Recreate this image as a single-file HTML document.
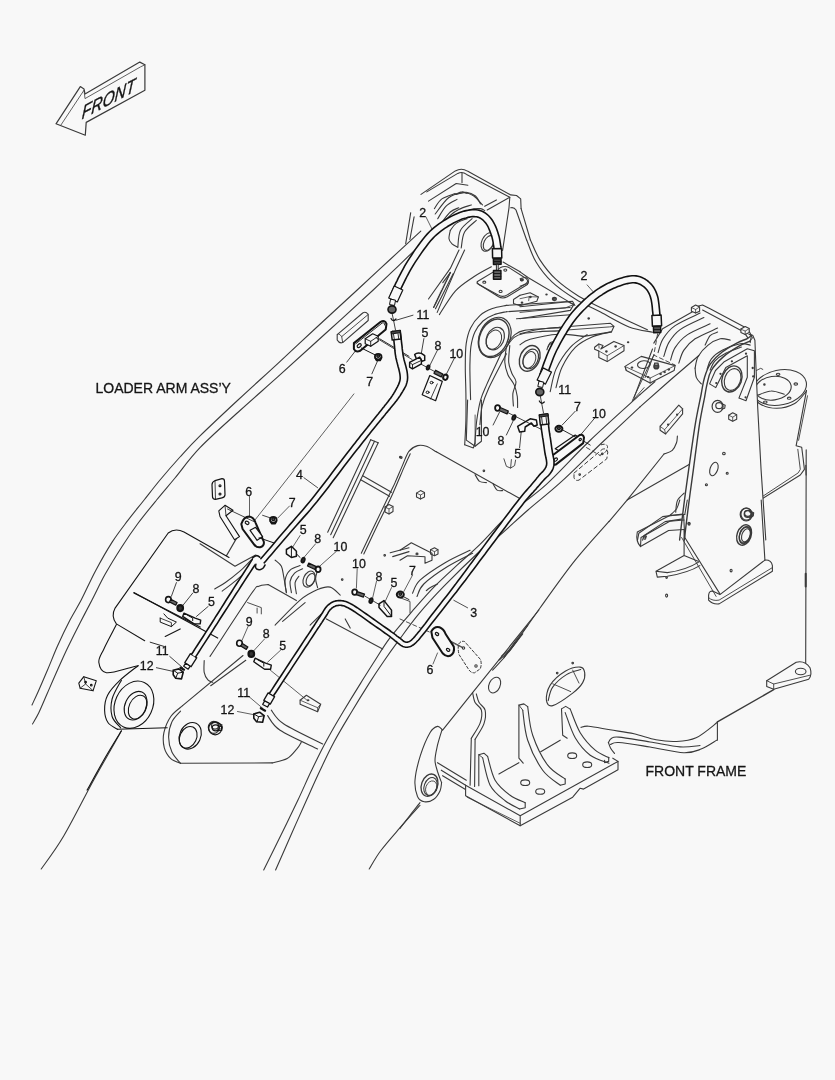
<!DOCTYPE html>
<html><head><meta charset="utf-8"><title>Front frame piping</title>
<style>
html,body{margin:0;padding:0;background:#f8f8f8;}
body{width:835px;height:1080px;overflow:hidden;font-family:"Liberation Sans",sans-serif;}
svg{display:block;will-change:transform;transform:translateZ(0)}
svg text{font-family:"Liberation Sans",sans-serif;fill:#151515;stroke:#151515;stroke-width:0.3px}
</style></head><body>
<svg width="835" height="1080" viewBox="0 0 835 1080" fill="none" stroke="#3a3a3a" stroke-linecap="round" stroke-linejoin="round" stroke-width="1.1">
<rect width="835" height="1080" fill="#f8f8f8" stroke="none"/>
<ellipse cx="779.7" cy="387.5" rx="27.1" ry="17.4" transform="rotate(-12 779.7 387.5)"/>
<path d="M754.4 394.2 C755.3 395.7 755.6 401.1 759.3 403.5 C763 405.8 770.8 408.3 776.7 408.3 C782.6 408.3 789.8 406.2 794.7 403.5 C799.6 400.7 804.2 393.6 806.1 391.7"/>
<ellipse cx="773.2" cy="388.2" rx="18.1" ry="11.8" transform="rotate(-8 773.2 388.2)"/>
<path d="M757.9 395.1 C760.1 394.4 766.7 391.1 771.1 391 C775.5 390.8 782.1 393.6 784.3 394.2"/>
<ellipse cx="778.1" cy="374.3" rx="1.8" ry="1.1"/>
<ellipse cx="795.8" cy="384" rx="1.8" ry="1.1"/>
<ellipse cx="789.2" cy="398.2" rx="1.8" ry="1.1"/>
<ellipse cx="765.3" cy="402.1" rx="1.8" ry="1.1"/>
<ellipse cx="764.4" cy="384.4" rx="0.7" ry="0.7"/>
<path d="M755.8 370.8 L760.7 368.3 L762.8 369.4" stroke-width="0.9"/>
<path d="M806.5 390.3 L796.1 445.8 L801.7 447.2 L803.1 458.3 L804.4 469.4 L800.3 475 L761.4 499.3"/>
<path d="M807.5 395.8 L798.6 440.3" stroke-width="0.9"/>
<path d="M797.8 449.3 L800.3 469.4 L798.2 472.9 L761.4 497.2" stroke-width="0.9"/>
<path d="M805.8 465.3 L806.1 475"/>
<path d="M688.6 470.1 L695.3 424.1 L701.2 394 L704.6 377.2 L710.4 363.8 L722.2 352 L737.3 342.8 L747.3 338.6 L751 335.6 L754.9 340.3 L755.7 360.4 L757.7 407.4 L761.1 470.1 L765.8 540 L679.5 540 Z" fill="#f8f8f8" stroke="none"/>
<path d="M56 123.8 L80.3 86.6 L84 88.9 L85 93.9 L139.8 62.1 L144.9 64.8 L144.9 90.2 L86.2 122.4 L85.3 135.2 Z" stroke-width="1.2"/>
<path d="M61 124.9 L84 90.2 L85 98.6 L140.7 66.8 L144.9 64.8" stroke-width="0.8"/>
<text transform="matrix(1,-0.53,-0.1,1.25,81.5,119.5)" font-size="15.5" font-style="italic" stroke="#1a1a1a" stroke-width="0.35">FRONT</text>
<text x="95.5" y="392.7" font-size="14" text-anchor="start">LOADER ARM ASS&#8217;Y</text>
<text x="645.5" y="776" font-size="14" text-anchor="start">FRONT FRAME</text>
<path d="M421 194.4 L455.3 170.9 Q461.7 167.5 467.4 171.1 L510.7 194.9 L516.5 195.5 L520.7 198.9 L521.1 208.6"/>
<path d="M426.8 191.9 L457.8 173.4 Q462.4 171.1 466.6 174.4 L509.8 197.2 L487.2 210"/>
<path d="M462 173.1 L462 182.6"/>
<path d="M496.4 199.9 L484.7 206.3"/>
<path d="M509.8 197.2 L509 207.8 L502.6 250.5"/>
<path d="M510.7 207.8 Q514 206.9 516 210 L526.6 240"/>
<path d="M521.1 208.6 L530.4 240"/>
<path d="M428.5 201.1 L456.2 183.5 L467.9 185.2"/>
<path d="M434.4 208.6 C435.6 207 438.4 201.4 441.9 198.9 C445.4 196.4 453.1 194.4 455.3 193.5"/>
<path d="M435.2 214 C437.4 211.3 443.9 201.3 448.6 197.7 C453.4 194.2 459.5 193 463.7 192.7 C467.9 192.4 470.6 194 473.8 196 C476.9 198.1 481 203.5 482.5 204.9"/>
<path d="M440.2 224.6 C441.9 222.5 447.2 214.8 450.3 212 C453.4 209.2 457.3 208.5 458.7 207.8"/>
<path d="M455.3 194.4 C456.4 194 460.1 192 462 191.9 C464 191.7 466.2 193.3 467.1 193.5"/>
<path d="M450.3 230.4 C450.1 231.8 448.7 236.6 449 238.8 C449.2 241 450.5 242.4 452 243.8 C453.5 245.2 456.9 246.6 457.8 247.2"/>
<path d="M457.8 247.2 C458.3 244.4 458 235.2 460.4 230.4 C462.7 225.7 470.1 220.6 472.1 218.7"/>
<path d="M461.2 248 C461.8 245.4 462 236.7 464.6 232.1 C467.1 227.5 474.3 222.3 476.3 220.4"/>
<path d="M477.5 281.5 L500.6 267.6 Q504.8 265.4 509 267.6 L526.1 278.5 Q529.1 281 526.1 283.5 L507.3 294.9 Q502.6 297.8 498.1 294.9 L478.8 284.4 Q476.3 282.7 477.5 281.5 Z" fill="#f8f8f8"/>
<path d="M477.1 283.2 L498.6 296.8 Q502.6 299.1 507.3 296.8 L527.4 284.5 L528.4 281.5"/>
<ellipse cx="484.3" cy="282.2" rx="1.5" ry="1.1"/>
<ellipse cx="505.3" cy="270.1" rx="1.5" ry="1.1"/>
<ellipse cx="521.9" cy="279.8" rx="1.5" ry="1.1"/>
<ellipse cx="500.6" cy="291.4" rx="1.5" ry="1.1"/>
<path d="M503.1 262.1 L520.1 271.8"/>
<path d="M491.4 266.8 C488.4 268.4 479.8 272.8 473.8 276.8 C467.8 280.9 461.1 284.8 455.3 291.1 C449.6 297.4 442.1 310.6 439.4 314.6"/>
<path d="M459 250 L450.3 268.4 L428.5 299"/>
<path d="M464.6 250 L455.3 270.1 L437.2 312.4"/>
<path d="M450.3 272.6 L433.5 307.8" stroke-width="1.6" stroke-dasharray="1 1.2"/>
<path d="M453.3 273.5 L435.5 308.7"/>
<path d="M442.8 282.7 L450.3 272.6"/>
<path d="M464.7 444.8 C464.9 440.7 465.7 428.6 465.9 420 C466.1 411.5 466 402.5 465.9 393.4 C465.8 384.3 465.2 373.7 465.3 365.4 C465.3 357.1 465.3 349.8 466.2 343.6 C467.1 337.4 468.3 332.7 470.6 328 C472.9 323.4 476.3 318.8 479.9 315.6 C483.5 312.3 488 310.2 492.4 308.6 C496.8 306.9 504 306 506.4 305.4"/>
<path d="M506.4 305.4 L572.5 301.2 L574.9 305.4"/>
<path d="M464.7 444.8 L473.4 447.9 L474.9 443.2"/>
<path d="M474.9 443.2 C475.2 439.4 475.8 427.3 476.8 420 C477.8 412.8 479 405.6 480.7 399.6 C482.4 393.6 483.4 392 486.9 384.1 C490.4 376.2 499.2 357.5 501.7 352.2"/>
<path d="M479.9 424.6 C480.3 421.4 480.8 411.8 482.2 405.9 C483.7 399.9 484.5 397.4 488.5 388.7 C492.5 380.1 503.4 359.6 506.4 353.7"/>
<path d="M470.6 399.6 C470.5 396.5 470.2 386.7 470.1 381 C470 375.3 469.8 371.1 469.9 365.4 C470.1 359.7 470.1 352.3 470.9 346.7 C471.7 341.1 472.9 336.2 474.9 331.9 C477 327.6 479.9 323.9 483 321 C486.2 318.2 490 316.3 493.9 314.8 C497.8 313.2 504.3 312.2 506.4 311.7"/>
<path d="M506.4 311.7 L570.2 307.5"/>
<ellipse cx="494.7" cy="337.4" rx="15.3" ry="21" stroke-width="1.2" transform="rotate(25 494.7 337.4)"/>
<ellipse cx="493.9" cy="337.8" rx="14" ry="19.6" stroke-width="1.4" transform="rotate(25 493.9 337.8)"/>
<ellipse cx="495.2" cy="338.6" rx="8.6" ry="11.8" stroke-width="1.2" transform="rotate(25 495.2 338.6)"/>
<ellipse cx="493.9" cy="339.7" rx="7.2" ry="10" stroke-width="1" transform="rotate(25 493.9 339.7)"/>
<path d="M506.4 346.7 C507.7 345.2 511.3 339.6 514.2 337.4 C517 335.2 518.8 334.5 523.5 333.5 C528.2 332.5 535.7 332 542.2 331.4 C548.7 330.9 558.2 331.4 562.4 330.4 C566.6 329.3 566.6 326.1 567.4 325.2"/>
<path d="M507.9 342.8 C509.1 341.4 512.2 336.6 514.9 334.6 C517.7 332.5 519.7 331.3 524.3 330.4 C528.8 329.4 535.6 329.2 542.2 328.8 C548.8 328.4 560.4 327.9 564 327.7"/>
<path d="M516.5 318.7 C520.8 318.4 533.2 317.5 542.2 316.8 C551.2 316.2 565.8 315.1 570.5 314.8"/>
<path d="M506.4 346.7 C506.1 349.3 504.6 357.6 504.8 362.3 C505.1 366.9 506.4 371 507.9 374.7 C509.5 378.5 512.6 381.2 514.2 384.9 C515.7 388.5 516.7 392.8 517.3 396.5 C517.8 400.3 517.5 405.6 517.6 407.4"/>
<path d="M509.8 345.5 C509.6 348.3 508.4 357.7 508.7 362.3 C509.1 366.9 510.6 369.9 511.8 373.2 C513 376.4 515.8 378.4 516 381.7 C516.2 385.1 513.4 389.4 512.9 393.4 C512.5 397.4 513.3 403.8 513.4 405.9"/>
<ellipse cx="529.7" cy="358.4" rx="9.7" ry="13.4" stroke-width="1.4" transform="rotate(25 529.7 358.4)"/>
<ellipse cx="530.7" cy="358.9" rx="7.2" ry="10.3" stroke-width="1.2" transform="rotate(25 530.7 358.9)"/>
<ellipse cx="529.4" cy="359.9" rx="5.9" ry="8.7" stroke-width="1" transform="rotate(25 529.4 359.9)"/>
<path d="M548.4 346.7 C548.7 346.1 549.1 343.6 550 342.8 C550.9 342 553.2 341.9 553.9 341.7"/>
<path d="M546.9 349.8 C547.2 348.9 547.9 345.4 549.2 344.4 C550.5 343.3 553.7 343.7 554.6 343.6"/>
<path d="M550.3 351.4 C550.5 350.6 551 347.6 551.8 346.7 C552.7 345.8 554.8 346.1 555.4 345.9"/>
<path d="M353.9 393.9 L253.8 521.5" stroke-width="0.8"/>
<path d="M303.9 477.7 L317.6 487.7" stroke-width="0.9"/>
<path d="M337.2 334.6 L362.7 313 Q365.7 311 368.2 314.5 L368.2 320.5 L342.7 342.6 Q339.2 343.8 337.2 340.1 Z"/>
<path d="M337.2 334.6 Q338.2 332.1 341.7 336.6 L368.2 314.5 M341.7 336.6 L342.7 342.6" stroke-width="0.9"/>
<path d="M370.7 439.7 L327.7 532.3"/>
<path d="M374.5 441.2 L330.7 534.8"/>
<path d="M378.2 442.7 L333.2 537.8"/>
<path d="M370.7 439.7 L378.2 442.7"/>
<path d="M362.7 475.7 L391.5 492.3"/>
<path d="M360.7 479.7 L389.5 496.3"/>
<ellipse cx="400.3" cy="457.2" rx="0.8" ry="0.8"/>
<ellipse cx="384.7" cy="555.3" rx="0.8" ry="0.8"/>
<path d="M390.2 552.8 L409 547.8"/>
<path d="M392.7 556.6 L409 551.6"/>
<path d="M210 656.4 C216.9 646 243.2 605.5 251.3 593.8 C259.4 582.2 256 587.9 258.8 586.3 C261.6 584.8 266.5 584.9 268.1 584.6"/>
<path d="M268.1 584.6 L296.4 600.6"/>
<path d="M200 543.8 L235 566.3 L255.6 555"/>
<path d="M271.3 710.2 C273.4 712.5 275.3 718.4 283.9 724 C292.4 729.6 316.2 740.7 322.7 744"/>
<path d="M267.6 715.7 C269.7 718.2 271.8 724.7 280.1 730.3 C288.4 735.8 311.4 745.9 317.6 749"/>
<path d="M326.4 618.9 L382.7 648.9"/>
<path d="M345.2 618.9 L350.2 628.1"/>
<path d="M275.1 625.1 C279.3 621 293 606 300.1 600.1 C307.2 594.2 312.6 591.8 317.6 589.6 C322.7 587.4 326.4 586.2 330.2 587.1 C333.9 588 338.5 593.8 340.2 595.1"/>
<path d="M282.6 621.4 L305.1 602.6"/>
<path d="M310.1 625.1 L325.2 610.1"/>
<ellipse cx="309.1" cy="579.1" rx="5.5" ry="8.5" transform="rotate(25 309.1 579.1)"/>
<ellipse cx="310.6" cy="579.6" rx="4" ry="6.5" transform="rotate(25 310.6 579.6)"/>
<path d="M286.4 592.6 C286.1 590.5 284.5 583.8 285.1 580.1 C285.7 576.3 287.6 572.5 290.1 570.1 C292.6 567.6 298.5 566.3 300.1 565.6"/>
<path d="M291.4 592.6 C291.2 590.7 289.6 584.6 290.1 581.3 C290.7 578.1 292.5 575.2 294.6 573.1 C296.7 571 301.3 569.5 302.6 568.8"/>
<path d="M296.4 593.8 C296.2 592 294.7 585.5 295.1 582.6 C295.5 579.7 298.2 577.4 298.9 576.3"/>
<path d="M275.1 560.1 C276.1 561.1 279.9 563.4 281.4 566.3 C282.8 569.2 283 573.2 283.9 577.6 C284.7 582 285.9 590.1 286.4 592.6"/>
<path d="M317.6 587.6 C317.3 586.1 315.6 581.7 315.6 578.8 C315.6 575.9 317.3 571.5 317.6 570.1"/>
<path d="M247.6 602.6 L261.3 607.6 L261.3 613.9 M257.1 608.1 L257.1 613.1" stroke-width="0.9"/>
<path d="M300.1 700.2 L306.4 695.2 L320.7 704.2 L317.6 711.7 L300.1 704.2 Z" fill="#f8f8f8"/>
<path d="M300.1 700.2 L317.6 707.7 L317.6 711.7 M317.6 707.7 L320.7 704.2" stroke-width="0.8"/>
<ellipse cx="308.1" cy="700.2" rx="0.8" ry="0.5"/>
<path d="M268.8 668.9 L307.6 700.7" stroke-width="0.8"/>
<ellipse cx="213.8" cy="727.3" rx="5.5" ry="6" stroke-width="1.2"/>
<ellipse cx="215" cy="725.8" rx="3.5" ry="3.3" stroke-width="1.2"/>
<path d="M217.5 723.3 L222 724.8 L221.5 728.8 L217.5 729.3"/>
<ellipse cx="342.2" cy="579.6" rx="0.8" ry="0.8"/>
<path d="M300.1 535.5 L292.1 548" stroke-width="0.8"/>
<path d="M315.6 543.8 L303.9 557.5" stroke-width="0.8"/>
<path d="M336.4 551.3 L319.6 566.3" stroke-width="0.8"/>
<path d="M357.2 568.8 L356.4 588.1" stroke-width="0.8"/>
<path d="M376.5 581.3 L372.7 597.6" stroke-width="0.8"/>
<path d="M391.5 587.6 L385.2 601.4" stroke-width="0.8"/>
<path d="M248.1 626.4 L242.1 640.2" stroke-width="0.8"/>
<path d="M264.6 638.9 L253.8 650.7" stroke-width="0.8"/>
<path d="M280.6 650.2 L267.6 662.2" stroke-width="0.8"/>
<path d="M248.8 696.5 L262.6 708.2" stroke-width="0.8"/>
<path d="M237.5 711.5 L253.8 714.7" stroke-width="0.8"/>
<path d="M609 521.4 C603.4 527.9 586.7 545.8 575.2 560.2 C563.7 574.6 551 592.7 540.2 607.8 C529.3 622.8 518.1 639.9 510.1 650.3 C502.2 660.7 495.5 666.8 492.6 670.1"/>
<path d="M527.7 625.3 C525.6 628 519.1 636.1 515.1 641.6 C511.2 647 505.8 655.1 503.9 657.8"/>
<path d="M436.3 451.8 L520.7 499.1"/>
<path d="M475.1 474.6 C475.8 475.7 477.7 480 479.6 481.4 C481.5 482.7 485.2 482.4 486.4 482.6"/>
<path d="M493.1 483.9 C493.8 484.9 495.5 489 497.1 490.1 C498.7 491.2 501.7 490.5 502.6 490.6"/>
<ellipse cx="483.9" cy="470.8" rx="0.8" ry="0.8"/>
<ellipse cx="401.3" cy="457.6" rx="0.8" ry="0.8"/>
<path d="M467.6 400 L466.3 440.1 L475.1 446.3 L481.4 441.3 L481.4 400"/>
<path d="M475.1 446.3 L475.1 415" stroke-width="0.8"/>
<path d="M416.5 493.1 L420.5 490.6 L424.5 492.6 L424.5 497.1 L420.5 499.1 L416.5 497.1 Z"/>
<path d="M416.5 493.1 L420.5 495.1 L424.5 492.6 M420.5 495.1 L420.5 499.1" stroke-width="0.8"/>
<path d="M503.9 458.8 L506.4 466.3 L510.6 468.1 L511.4 459.6 M510.6 468.1 L514.6 465.6 L515.6 460.1" stroke-width="0.9"/>
<path d="M400 550.2 L411.3 542.7 L432 553.2 L432 560.2 L425 563.2 L425 556.7 L407.5 555.7 L400 560.2"/>
<ellipse cx="417" cy="553.9" rx="1" ry="0.8"/>
<path d="M430.5 549.7 L434.5 547.7 L438 549.7 L438 553.9 L434.5 555.7 L430.5 553.9 Z"/>
<path d="M430.5 549.7 L434.5 551.7 L438 549.7 M434.5 551.7 L434.5 555.7" stroke-width="0.8"/>
<path d="M470.1 550.2 C465.9 552.3 453.4 557.7 445.1 562.7 C436.7 567.7 425.4 575.1 420 580.2 C414.6 585.3 413.8 591.1 412.5 593.2"/>
<path d="M472.6 553.2 C468.4 555.4 455.7 561.3 447.6 566.5 C439.4 571.6 428.9 579 423.8 584 C418.7 589 418.1 594.4 417 596.5"/>
<path d="M437.5 584 C436.3 584.6 431.9 586.6 430 587.7 C428.2 588.9 426.9 590.2 426.3 590.7"/>
<path d="M400 597.7 L410 601.5 L410 612.8" stroke-width="0.9"/>
<path d="M400 619 L431.3 632.8" stroke-width="0.9" stroke-dasharray="4 3"/>
<path d="M437.5 635.3 L462.6 647.8" stroke-width="0.9"/>
<path d="M453.8 600.3 L467.6 607.8" stroke-width="0.9"/>
<path d="M412.5 575.2 L403.8 591.5" stroke-width="0.8"/>
<path d="M574 473.1 L602.3 449.3 Q606.5 447.6 607.8 452.1 L606.8 458.8 L579 480.1 Q575.2 481.4 574 477.6 Z" stroke-width="1" stroke-dasharray="4 3"/>
<path d="M586.5 447.6 L600.3 455.6" stroke-width="0.9" stroke-dasharray="4 3"/>
<ellipse cx="579.7" cy="474.6" rx="0.8" ry="0.8"/>
<ellipse cx="602.3" cy="453.8" rx="0.8" ry="0.8"/>
<path d="M679.6 540 C680.3 534.1 682.4 516.3 683.9 504.6 C685.4 493 686.7 483.5 688.6 470.1 C690.5 456.7 693.2 436.8 695.3 424.1 C697.4 411.5 699.7 401.8 701.2 394 C702.7 386.1 703 382.2 704.6 377.2 C706.1 372.2 707.5 368 710.4 363.8 C713.4 359.6 717.7 355.5 722.2 352 C726.6 348.5 733.1 345.1 737.3 342.8 C741.4 340.6 745 339.8 747.3 338.6 C749.6 337.4 750.4 336.1 751 335.6" stroke-width="1.4"/>
<path d="M684.3 540 C685 534.1 687.1 516.3 688.6 504.6 C690.1 493 691.5 483.5 693.3 470.1 C695.1 456.7 697.7 436.3 699.5 424.1 C701.4 412 703.3 404 704.6 397.3 C705.8 390.6 706 388.4 707.1 383.9 C708.2 379.4 708.6 375 711.3 370.5 C713.9 366 718.4 361.1 723 357.1 C727.6 353 734.5 348.8 738.9 346.2 C743.4 343.5 748 342 749.8 341.1" stroke-width="1.4"/>
<path d="M749 334.4 L752.7 335.3 L754.9 340.3 L755.7 360.4 L757.7 407.4 L761.1 470.1 L765.8 540"/>
<path d="M751 335.6 L752.7 337.8 L749.8 341.1" stroke-width="0.9"/>
<path d="M709.6 383.9 L715.5 370.5 L723.8 362.1 L747.3 348.7 L754.4 350.7 L754.4 377.2 L746 400.7 L738.9 398.1 L747.3 377.2 L747.3 355.7 L725.8 367.5 L715.8 387.6 Z"/>
<ellipse cx="731.9" cy="378.9" rx="9.7" ry="13.4" stroke-width="1.4" transform="rotate(20 731.9 378.9)"/>
<ellipse cx="732.6" cy="379.5" rx="7.9" ry="11.2" transform="rotate(20 732.6 379.5)"/>
<ellipse cx="731.9" cy="361.3" rx="0.6" ry="0.6"/>
<ellipse cx="746" cy="353.7" rx="0.6" ry="0.6"/>
<ellipse cx="752.7" cy="368" rx="0.6" ry="0.6"/>
<ellipse cx="753.2" cy="376.4" rx="0.6" ry="0.6"/>
<ellipse cx="745.6" cy="397.3" rx="0.6" ry="0.6"/>
<ellipse cx="720.5" cy="373.8" rx="0.6" ry="0.6"/>
<ellipse cx="716.3" cy="383.1" rx="0.6" ry="0.6"/>
<ellipse cx="717.6" cy="406.4" rx="5.5" ry="6" stroke-width="1.2"/>
<ellipse cx="719.1" cy="405.7" rx="3.3" ry="3" stroke-width="1.2"/>
<path d="M721.7 403.7 L725.2 405.2 L724.7 408.2 L721.7 409.2"/>
<ellipse cx="746.4" cy="514.1" rx="5.5" ry="6" stroke-width="1.2"/>
<ellipse cx="747.9" cy="513.3" rx="3.3" ry="3" stroke-width="1.2"/>
<path d="M750.2 511.3 L753.7 512.8 L753.2 515.8 L750.2 516.8"/>
<path d="M728.7 415.2 L732.7 412.7 L736.7 414.7 L736.7 419.2 L732.7 421.2 L728.7 419.2 Z"/>
<path d="M728.7 415.2 L732.7 417.2 L736.7 414.7 M732.7 417.2 L732.7 421.2" stroke-width="0.8"/>
<ellipse cx="723.9" cy="453.5" rx="1.3" ry="1.3"/>
<ellipse cx="713.9" cy="469" rx="3.8" ry="7" transform="rotate(20 713.9 469)"/>
<ellipse cx="727.2" cy="473.3" rx="1" ry="1"/>
<ellipse cx="706.4" cy="484.8" rx="1" ry="1"/>
<ellipse cx="688.9" cy="523.3" rx="1" ry="1"/>
<ellipse cx="745.2" cy="534.8" rx="5.5" ry="8.5" stroke-width="1.3" transform="rotate(20 745.2 534.8)"/>
<ellipse cx="745.9" cy="535.3" rx="4" ry="6.8" transform="rotate(20 745.9 535.3)"/>
<path d="M692.6 307.5 L702.6 305 L710.1 308.8 L747.7 328.8 L751.4 335.6 L750.2 342.6"/>
<path d="M702.6 310.1 L743.9 332.1 L747.7 337.6"/>
<path d="M691.4 307.5 L695.6 305 L699.6 307 L699.6 311.3 L695.6 313.1 L691.4 311.3 Z" fill="#f8f8f8"/>
<path d="M691.4 307.5 L695.6 309.5 L699.6 307 M695.6 309.5 L695.6 313.1" stroke-width="0.8"/>
<path d="M740.9 329.1 L745.2 326.6 L749.2 328.6 L749.2 332.6 L745.2 334.6 L740.9 332.6 Z" fill="#f8f8f8"/>
<path d="M740.9 329.1 L745.2 331.1 L749.2 328.6 M745.2 331.1 L745.2 334.6" stroke-width="0.8"/>
<path d="M692.1 312.1 L662.6 328.8 L653.8 343.1"/>
<path d="M700.1 313.1 C696 315.1 681.3 321.3 675.1 325.6 C668.9 329.9 665.9 334.3 663.1 338.8 C660.2 343.3 658.9 350.3 658.1 352.6"/>
<path d="M703.9 317.6 C699.9 319.6 685.9 325.4 680.1 329.6 C674.3 333.7 671.5 338.1 668.8 342.6 C666.1 347.1 664.7 354.1 663.8 356.4"/>
<path d="M710.1 323.8 C706.4 325.6 693.5 330.6 687.6 334.6 C681.8 338.5 677.9 343.3 675.1 347.6 C672.3 351.9 671.3 358 670.6 360.1"/>
<path d="M717.6 328.1 C713.9 329.9 700.8 335.2 695.1 338.8 C689.5 342.5 686.6 346.1 683.9 350.1 C681.1 354.1 679.7 360.9 678.8 363.1"/>
<path d="M695.1 368.1 C695.6 366.2 696 360.2 698.1 356.4 C700.3 352.5 704.5 348 708.1 345.1 C711.8 342.2 716.5 339.7 720.2 338.8 C723.8 338 728.5 339.9 730.2 340.1"/>
<path d="M695.1 368.1 C695.3 369.7 695.3 375 696.4 377.6 C697.4 380.3 700.5 382.8 701.4 383.9"/>
<path d="M705.1 345.1 C706 343.5 708.1 337.8 710.1 335.6 C712.2 333.4 716.4 332.7 717.6 332.1"/>
<path d="M707.1 368.9 C707.8 367.2 708.8 362 711.4 358.9 C714 355.7 717.9 352.6 722.7 350.1 C727.5 347.6 735.6 344.7 740.2 343.8 C744.8 343 748.5 344.9 750.2 345.1"/>
<path d="M710.1 370.1 C710.9 368.7 712.1 364.2 714.6 361.4 C717.1 358.6 720.7 355.7 725.2 353.4 C729.6 351 738.7 348.1 741.4 347.1"/>
<path d="M625 366.4 L641.3 356.4 L675.1 365.6 L674.1 370.6 L650.1 383.1 L626.3 370.6 Z"/>
<path d="M626.3 370.6 L625 366.4 M650.1 378.1 L675.1 365.6 M650.1 378.1 L626.3 367.1 M650.1 378.1 L650.1 383.1" stroke-width="0.8"/>
<ellipse cx="643.8" cy="364.6" rx="6.3" ry="3.8" transform="rotate(-5 643.8 364.6)"/>
<ellipse cx="632" cy="367.6" rx="0.8" ry="0.6"/>
<ellipse cx="648.1" cy="377.1" rx="0.8" ry="0.6"/>
<ellipse cx="668.8" cy="369.6" rx="0.8" ry="0.6"/>
<ellipse cx="664.6" cy="372.1" rx="0.8" ry="0.6"/>
<ellipse cx="660.6" cy="374.1" rx="0.8" ry="0.6"/>
<path d="M657.6 333.8 L653.8 355.1 L675.1 365.1" stroke-width="0.9" stroke-dasharray="4 3"/>
<path d="M653.8 355.1 L632.5 400.2" stroke-width="0.9"/>
<path d="M653.8 355.1 L645.1 377.6" stroke-width="0.9"/>
<ellipse cx="656.3" cy="366.4" rx="2.3" ry="2.3" stroke-width="1.6" fill="#555"/>
<path d="M654.6 363.1 L658.1 363.1 L658.1 365.1 L654.6 365.1 Z" stroke-width="1.2" fill="#f8f8f8"/>
<path d="M660.1 426.4 L678.8 405.2 L682.6 408.9 L682.6 413.9 L665.6 434 L660.1 430.2 Z"/>
<path d="M660.1 426.4 L664.6 429.7 L682.6 408.9 M664.6 429.7 L665.6 434" stroke-width="0.8"/>
<ellipse cx="668.1" cy="424.7" rx="0.6" ry="0.6"/>
<ellipse cx="677.1" cy="414.7" rx="0.6" ry="0.6"/>
<path d="M637.5 540.1 L638.8 533.3 L662.6 516.6 L682.6 514.1"/>
<path d="M642.6 540.1 L643.8 535.8 L665.1 521.6 L681.4 519.1"/>
<ellipse cx="645.6" cy="536.6" rx="0.8" ry="0.8"/>
<path d="M600 455.2 Q607.5 452.7 607.5 446.5 Q606.3 442.7 600 445.2" stroke-width="1" stroke-dasharray="3 2.5"/>
<path d="M806.2 449.9 L805.7 662.7"/>
<path d="M805.7 573.8 L805.7 586.4" stroke-width="2"/>
<path d="M683.6 515 L684.8 537.5 L719.9 593.9"/>
<path d="M681.6 537.5 L716.1 596.4" stroke-width="0.9"/>
<path d="M761.2 500 L764.9 560.1"/>
<path d="M708.6 595.1 Q709.1 590.1 713.6 591.4 L719.9 594.6 L764.9 560.1 Q771.2 559.6 772.4 565.6 L772.4 571.3 L719.1 603.9 Q712.4 604.6 708.6 600.1 Z"/>
<path d="M708.6 597.6 Q712.4 601.4 719.1 600.1 L772.4 567.6" stroke-width="0.9"/>
<path d="M637.3 532 L669.8 515.5 L684.8 514.5 M637.3 532 Q635.5 541.3 640.5 546.6 L668.6 530.5 L684.1 529.5 M640.5 546.6 L641 537.5 L669.8 521.3 L684.1 520"/>
<ellipse cx="644.8" cy="538" rx="1" ry="1.3"/>
<path d="M679.8 500 C679.3 501.5 678.2 506.2 676.6 508.8 C674.9 511.3 670.9 514.4 669.8 515.5"/>
<path d="M687.3 500 L684.8 514.5"/>
<path d="M656 571.3 L684.1 555.6 L684.1 530 M684.1 555.6 L698.1 561.3 M656 571.3 L657.3 577.1 L667.3 576.3 Q688.6 572.6 699.8 565.6 M656 571.3 L667.3 572.6 Q686.1 570.1 698.6 562.1"/>
<ellipse cx="689.1" cy="523.8" rx="1" ry="1.3"/>
<ellipse cx="731.1" cy="570.6" rx="1" ry="1.3"/>
<ellipse cx="666.6" cy="595.6" rx="1" ry="1.5"/>
<ellipse cx="666.6" cy="577.6" rx="0.8" ry="0.8"/>
<ellipse cx="746.2" cy="514.5" rx="6" ry="6.5" stroke-width="1.2"/>
<ellipse cx="747.7" cy="514" rx="3.5" ry="3.3" stroke-width="1.2"/>
<path d="M749.7 512 L753.2 513.5 L752.7 516.5 L749.7 517.5"/>
<ellipse cx="744.1" cy="535" rx="7" ry="10.5" stroke-width="1.4" transform="rotate(20 744.1 535)"/>
<ellipse cx="744.9" cy="535.5" rx="5.3" ry="8.5" transform="rotate(20 744.9 535.5)"/>
<path d="M766.7 680.7 L796.2 662.2 Q805 660.2 810 667.7 Q812.5 675.2 808.7 679.2 L773.7 689.2 L766.7 686.5 Z"/>
<path d="M766.7 680.7 L773.7 684 L810 675.2 M773.7 684 L773.7 689.2" stroke-width="0.9"/>
<ellipse cx="800.7" cy="671.5" rx="5.3" ry="3.3"/>
<path d="M773.7 689.7 L717.4 721.8" stroke-width="1.4"/>
<path d="M717.4 721.8 L717.4 740.3"/>
<path d="M538.9 610 L472.6 692.6 L442.6 730.2"/>
<path d="M472.6 692.6 C473 694.3 473.6 699.7 475.1 702.6 C476.6 705.5 480.5 706.7 481.4 710.1 C482.2 713.5 481.8 718.5 480.1 723.1 C478.4 727.8 472.8 735.7 471.3 738.2"/>
<path d="M471.3 738.2 L470.1 785.2"/>
<path d="M476.3 693.9 C476.8 695.3 477.6 699.9 479.1 702.6 C480.6 705.3 484.3 706.6 485.1 710.1 C485.9 713.7 485.5 719.1 483.9 723.9 C482.2 728.7 476.6 736.6 475.1 739.2"/>
<path d="M475.1 739.2 L474.6 786.5"/>
<path d="M442.1 729.6 C441.3 729.1 439.5 725.9 437.5 726.4 C435.5 726.9 432.9 727.9 430 732.7 C427.2 737.5 423 747.3 420.5 755.2 C418 763.1 415.5 773.3 415 780.2 C414.5 787.1 416 792.9 417.5 796.5 C419.1 800.1 421.6 801.3 424.3 801.7 C427 802.2 431.2 801.1 433.8 799.2 C436.4 797.4 438.8 793.5 440.1 790.7 C441.3 788 441.3 784.1 441.6 782.7"/>
<path d="M442.1 729.6 C441.3 732.2 438.7 740.1 437.5 745.2 C436.4 750.3 435 755.8 435 760.2 C435 764.6 436.5 767.7 437.5 771.5 C438.6 775.2 440.9 780.8 441.6 782.7"/>
<ellipse cx="429.5" cy="785.2" rx="8" ry="11.5" stroke-width="1.3" transform="rotate(20 429.5 785.2)"/>
<ellipse cx="430.5" cy="786.5" rx="6.3" ry="9.3" transform="rotate(20 430.5 786.5)"/>
<ellipse cx="431.3" cy="788.2" rx="5.5" ry="7.5" stroke-width="0.8" transform="rotate(20 431.3 788.2)"/>
<path d="M420 802.7 C418.4 804.8 413.4 811 410 815.3 C406.7 819.5 401.7 826.1 400 828.3"/>
<path d="M437.5 762.7 L466.3 780.2 M441.3 770.2 L465.6 785.2 M442.6 775.7 L465.1 789.2"/>
<path d="M465.6 785.2 L465.6 795.7 L520.2 825.8 L572.7 797.2 L580.2 788.2 L583.6 789.1 L618 769.8 L618 761.4"/>
<path d="M465.6 785.2 L520.2 815.8 L618 761.4 L612.8 758.2 M520.2 815.8 L520.2 825.8"/>
<path d="M467.1 797.2 L520.2 823.3" stroke-width="0.8"/>
<path d="M498.9 774 L518.9 762.7 M540.7 751.7 L560.2 740.2"/>
<path d="M478.8 754.7 L483.9 753.2 L487.6 756.4 M478.8 754.7 L478.8 785.7 M525.2 802.7 L525.2 807.7 L519.6 809"/>
<path d="M487.6 756.4 C488.9 760.4 491.4 773.7 495.1 780.2 C498.9 786.7 505.1 791.5 510.1 795.2 C515.1 799 522.7 801.5 525.2 802.7"/>
<path d="M482.6 757.7 C483.9 762.3 486.4 778 490.1 785.2 C493.9 792.4 500.2 796.8 505.1 800.7 C510.1 804.7 517.2 807.6 519.6 809"/>
<path d="M478.8 754.7 L482.6 757.7" stroke-width="0.9"/>
<path d="M518.9 705.1 L523.9 703.9 L527.7 706.6 M518.9 705.1 L518.9 758.2 L523.2 763.2 M565.2 779 L565.2 784 L560.2 785.2"/>
<path d="M527.7 706.6 C528.5 711.4 529.3 725.4 532.7 735.2 C536 744.9 542.3 757.9 547.7 765.2 C553.1 772.5 562.3 776.7 565.2 779"/>
<path d="M522.7 710.1 C523.5 715.1 524.3 730.2 527.7 740.2 C531 750.2 537.3 762.7 542.7 770.2 C548.1 777.7 557.3 782.7 560.2 785.2"/>
<path d="M518.9 705.1 L522.7 710.1" stroke-width="0.9"/>
<path d="M561.5 708.9 L565.7 706.4 L570.2 709.1 M561.5 708.9 L562.7 735.2 L567.2 738.2"/>
<path d="M570.2 709.1 C571.9 713 576.1 725.8 580.2 732.7 C584.4 739.5 590.4 746 595.2 750.2 C600 754.3 606.7 756.4 609 757.7"/>
<path d="M565.2 712.6 C566.9 716.8 571 730.6 575.2 737.7 C579.4 744.8 584.6 750.9 590.2 755.2 C595.9 759.4 605.9 761.9 609 763.2"/>
<ellipse cx="525.2" cy="782.7" rx="4.5" ry="2.8"/>
<ellipse cx="540.2" cy="791.5" rx="4.5" ry="2.8"/>
<ellipse cx="572.2" cy="755.7" rx="4.5" ry="2.8"/>
<ellipse cx="587.2" cy="764.7" rx="4.5" ry="2.8"/>
<ellipse cx="494.6" cy="685.1" rx="5.5" ry="8.3" transform="rotate(25 494.6 685.1)"/>
<path d="M546.4 700.1 C546 696.7 547.1 689.9 550.2 685.1 C553.3 680.3 560.2 674.3 565.2 671.3 C570.2 668.3 577 666.9 580.2 667.1 C583.5 667.3 584.3 670 584.7 672.6 C585.1 675.2 584.7 679.2 582.7 682.6 C580.7 686 577.7 689.3 572.7 693.1 C567.7 696.9 557.1 704.5 552.7 705.6 C548.3 706.8 546.9 703.5 546.4 700.1Z"/>
<path d="M548.2 700.6 C548.9 698.4 549.6 691.4 552.7 687.1 C555.7 682.8 561.8 677.5 566.5 674.6 C571.1 671.7 578.3 670.4 580.7 669.6"/>
<path d="M552.7 683.8 L570.7 691.6 M572.7 670.1 L579 683.1" stroke-width="0.9"/>
<ellipse cx="557.2" cy="673.1" rx="0.8" ry="0.8"/>
<ellipse cx="572.7" cy="663.1" rx="0.8" ry="0.8"/>
<path d="M498.9 660.1 C500.8 658.4 506.2 654.4 510.1 650.1 C514.1 645.7 520.6 636.5 522.7 633.8"/>
<path d="M501.4 656.3 C503 654.8 508.3 650.9 511.4 647.5 C514.5 644.2 518.7 638.2 520.2 636.3"/>
<path d="M410.7 212.7 L405.7 243.7 M414.1 216.9 L409.9 239.5"/>
<path d="M121.4 731 C116.8 739.2 103.3 762.5 93.7 780 C84.1 797.5 72.5 821.2 63.7 836 C55 850.8 45 863.5 41.2 869"/>
<path d="M420 805.3 C416.5 809.2 405.8 821.1 399.2 828.7 C392.6 836.3 385.5 844.3 380.5 851 C375.5 857.7 371.1 866 369.2 869"/>
<path d="M426 217 L433.5 232.1" stroke-width="0.8"/>
<path d="M526.7 240 C528.2 243.6 531.7 254.8 535.9 261.8 C540.1 268.8 545.3 275.7 551.9 281.9 C558.4 288.1 567.2 294 575.3 299 C583.4 304.1 591.5 307.5 600.5 312.1 C609.4 316.7 620.3 323.5 629 326.9 C637.7 330.2 648.5 331.3 652.5 332.2"/>
<path d="M530.4 240 C532 243.4 535.8 253.6 540.1 260.1 C544.4 266.7 549.6 273.4 556 279.4 C562.5 285.4 570.7 291.2 578.7 296.2 C586.6 301.1 595.7 305 603.8 309.1 C611.9 313.1 620 317 627.3 320.5 C634.6 323.9 644.1 328.2 647.4 329.7"/>
<path d="M520 271.9 L528.4 277.7 L573.7 304.6"/>
<path d="M520 278.6 L525.9 277.2 L528.7 279.4 L528.4 283.3 L520 286.1" stroke-width="0.9"/>
<ellipse cx="521.7" cy="279.9" rx="1" ry="0.7"/>
<path d="M520 295.3 L530.1 292.8 L538.4 297 L536.8 301.2 L520 305.7"/>
<path d="M520 298.7 L529.2 296.7 L538.4 297 M529.2 296.7 L528.7 300.7" stroke-width="0.8"/>
<ellipse cx="530.4" cy="297" rx="0.8" ry="0.6"/>
<ellipse cx="522" cy="302.7" rx="0.8" ry="0.6"/>
<path d="M520 306.7 L567.8 301.7 L573.7 304.6 L570.3 310.4 L520 318.8"/>
<path d="M520 312.4 L565.3 307.9 L573.7 304.6" stroke-width="0.9"/>
<ellipse cx="554.4" cy="299" rx="2" ry="1.5" stroke-width="1.3"/>
<ellipse cx="554.4" cy="298.9" rx="1" ry="0.8"/>
<ellipse cx="546.5" cy="294.5" rx="0.7" ry="0.5"/>
<ellipse cx="588.7" cy="318.5" rx="0.8" ry="0.6"/>
<path d="M559.4 327.2 L610.5 323.3 L613.9 326.4 L611.4 331.9 L583.7 336.4"/>
<path d="M560.2 330.5 L609.7 326.9 L613.9 326.4" stroke-width="0.9"/>
<path d="M520 333.9 C522.8 333.2 530.2 330.8 536.8 329.7 C543.3 328.6 555.6 327.6 559.4 327.2"/>
<path d="M520 344.8 C521.7 343.9 523.6 341 530.1 339.3 C536.5 337.5 549.6 334.7 558.6 334.2 C567.5 333.8 579.5 336 583.7 336.4"/>
<path d="M556 387.6 C557 384.2 558.7 374.1 561.9 367.4 C565.1 360.7 570.3 352.4 575.3 347.3 C580.4 342.2 586.1 339.5 592.1 336.9 C598.1 334.3 608.2 332.7 611.4 331.9"/>
<path d="M550.2 391.7 C551.2 388 552.7 376.5 556 369.1 C559.4 361.7 565.1 353 570.3 347.3 C575.5 341.6 584.3 336.8 587.1 334.7"/>
<path d="M594.6 347.3 L598.8 344 L603 345.6 L600.8 349 L613.9 341.4 L624 345.6 L624 350.7 L607.2 361.6 L598.8 357.4 L598.8 351 L594.6 349.3 Z" fill="#f8f8f8"/>
<path d="M598.8 351 L607.2 355.7 L624 345.6 M607.2 355.7 L607.2 361.6 M598.8 344 L599.1 348.1" stroke-width="0.8"/>
<ellipse cx="615.6" cy="346.5" rx="0.8" ry="0.6"/>
<ellipse cx="606.4" cy="351.5" rx="0.8" ry="0.6"/>
<ellipse cx="628.1" cy="342.3" rx="0.7" ry="0.5"/>
<path d="M652.5 349 L634 397.6"/>
<path d="M644.1 387.6 L632.3 401" stroke-width="0.9"/>
<path d="M587.1 284.9 L595.1 294" stroke-width="0.8"/>
<path d="M640 394.7 C631.7 402.3 605.6 425.6 590 440.5 C574.4 455.4 559.9 472 546.4 484.3 C532.9 496.6 520.1 504.5 509 514.5 C497.9 524.5 488.6 535.9 480 544.3 C471.4 552.7 465.1 557.8 457.4 564.9 C449.7 572 441.4 579.4 433.9 587.1 C426.3 594.9 419.4 603 412.1 611.4 C404.8 619.8 396.7 629 390.3 637.4 C383.9 645.8 378.9 654.4 374 662 C369.1 669.6 365.9 674.8 360.7 683.1 C355.5 691.4 348.8 702.3 343 712 C337.2 721.7 331.4 731.5 326.2 741.3 C320.9 751 316.2 760.8 311.5 770.5 C306.8 780.2 303.3 788.8 298.2 799.5 C293.1 810.2 286.8 823.2 281 835 C275.2 846.8 266.6 864.2 263.7 870"/>
<path d="M640 406.8 C633.3 413.1 613.3 431.8 600 444.5 C586.7 457.2 572 472 560 482.9 C548 493.8 538.2 501.1 528 510 C517.8 518.9 506.9 529.2 498.9 536 C490.9 542.8 489.1 542.6 480 551 C470.9 559.4 454.2 575.7 444 586.2 C433.8 596.7 426.4 604.8 418.8 613.9 C411.2 623 404.3 632.9 398.5 640.7 C392.7 648.6 388.9 653.9 384 661 C379.1 668.1 374.7 674.6 369.3 683.1 C363.9 691.6 357.3 702.3 351.5 712 C345.7 721.7 339.6 731.5 334.4 741.3 C329.1 751 324.6 760.8 320 770.5 C315.4 780.2 311.6 788.8 306.8 799.5 C302 810.2 296.2 823.2 291 835 C285.8 846.8 278.2 864.2 275.6 870"/>
<ellipse cx="488" cy="242" rx="6.2" ry="9.8" transform="rotate(25 488 242)"/>
<ellipse cx="488.6" cy="243" rx="4.6" ry="7.8" transform="rotate(25 488.6 243)"/>
<path d="M608.7 757.3 L608.7 761.4 L604.6 762.6 L604.6 760.4"/>
<path d="M581 727.4 C582.3 727.2 583.8 725.8 588.6 726.2 C593.4 726.6 602.4 728.5 610 729.8 C617.6 731.1 626.3 732.1 634 733.8 C641.7 735.5 649 738.5 656 739.8 C663 741.1 669.3 741.8 676 741.5 C682.7 741.2 689.2 741 696.1 737.8 C703 734.6 713.9 724.9 717.4 722.3"/>
<path d="M608.4 742.5 C608.9 741.8 609.6 739.4 611.3 738.5 C613 737.6 612.3 736.5 618.8 737.1 C625.2 737.7 639.8 740.4 650 742 C660.2 743.6 671.7 746.3 680 746.9 C688.3 747.5 696.7 745.7 700 745.5"/>
<path d="M610.4 744.5 C611.8 744.2 612.2 742.1 618.8 742.5 C625.4 742.9 639.2 745.3 650 747 C660.8 748.7 675.1 752.4 683.6 752.8 C692.1 753.1 695.6 751.2 701.1 749.1 C706.6 747 714 741.8 716.6 740.3"/>
<path d="M608.4 742.5 C608.8 743.4 609.5 746.2 610.5 748 C611.5 749.8 613.8 752.6 614.5 753.5"/>
<path d="M243 655.5 L182.6 705.7"/>
<path d="M182.6 705.7 C180.7 707.5 173.9 712 170.8 716.5 C167.7 721 165 727.5 163.9 732.7 C162.8 737.9 163.2 743.5 164.3 747.8 C165.5 752.1 168.1 756 170.8 758.6 C173.5 761.1 178.9 762.5 180.5 763.3"/>
<path d="M180.5 763.3 L272.1 762.9"/>
<path d="M272.1 762.9 C274.6 762.2 283.1 760.9 287.2 758.6 C291.3 756.2 294.5 751.6 296.9 748.9 C299.2 746.2 300.5 743.5 301.2 742.4"/>
<path d="M180.5 711.1 C179 712.9 173.8 717.6 171.9 721.9 C169.9 726.2 168.6 732 168.6 737 C168.6 742 169.9 747.7 171.9 752.1 C173.8 756.5 179 761.4 180.5 763.3"/>
<path d="M245.8 660.3 L210.7 685.7"/>
<path d="M204.2 660.5 C204.2 662.5 203.6 669.1 204.2 672.3 C204.8 675.6 206.4 678.2 207.9 679.9 C209.3 681.5 212 681.9 212.8 682.3"/>
<path d="M420.8 231.1 C415.5 236 399.6 250.7 389 260.5 C378.4 270.3 369.2 278.9 357.2 290 C345.2 301.1 330.2 314.8 317 327 C303.8 339.2 291.2 351.1 278 363.3 C264.8 375.5 251 387.9 238 400 C225 412.1 209.7 426.4 200 435.9 C190.3 445.4 186.7 449.6 180 457 C173.3 464.4 166 472.8 160 480 C154 487.2 149.4 493.3 144.1 500 C138.8 506.7 133.2 513.4 127.9 520.4 C122.6 527.4 117.7 533.5 112.3 541.9 C106.9 550.3 100.8 561 95.6 570.7 C90.4 580.4 85.5 591.8 81.2 600 C76.9 608.2 74 612.3 70 620 C66 627.7 61.2 637.7 57.5 646 C53.8 654.3 50.8 662.3 47.5 670 C44.2 677.7 40.6 686.2 38 692 C35.4 697.8 33 702.8 32 705"/>
<path d="M427.5 237.8 C422.9 242.2 409.1 255.6 400 264.3 C390.9 273 385.7 278.4 373.2 290 C360.7 301.6 340.9 319.6 325 334 C309.1 348.4 292.2 363.9 278 376.7 C263.8 389.4 253 398.7 240 410.5 C227 422.3 210.8 436.4 200 447.7 C189.2 458.9 182.2 469.3 175 478 C167.8 486.7 162.8 492.3 156.6 500 C150.3 507.7 143.3 516.2 137.5 524 C131.7 531.8 127.3 538.3 121.9 546.7 C116.5 555.1 110.1 565.4 105.1 574.3 C100.1 583.2 96.2 591.9 92 600 C87.8 608.1 84 615.2 80 623 C76 630.8 71.8 639.2 68 647 C64.2 654.8 61 662.2 57.5 670 C54 677.8 50.1 686.9 47 694 C43.9 701.1 41.2 707.7 38.8 712.7 C36.4 717.7 33.5 722.1 32.5 724"/>
<path d="M249.5 496.5 L249.5 516" stroke-width="0.8"/>
<path d="M289.5 506 L278 517.8" stroke-width="0.8"/>
<path d="M433 664 L437.5 653" stroke-width="0.8"/>
<path d="M436.3 451.8 C434.6 450.9 429.5 447.3 426.4 446.3 C423.3 445.3 420.6 444.8 417.7 445.6 C414.8 446.4 411.4 448.1 408.9 451.3 C406.4 454.6 404.9 459.9 402.6 465.1 C400.3 470.3 397.2 477.9 395.1 482.6 C393 487.3 393.3 486.4 390.1 493.1 C386.9 499.8 380.5 513 375.7 523 C370.9 533 363.7 548.2 361.3 553.2"/>
<path d="M410.2 453.8 C409.1 456.1 406.8 460.9 403.9 467.6 C401 474.3 396.9 484.5 392.6 493.9 C388.3 503.3 382.8 514 378 524 C373.2 534 366.2 548.9 363.8 553.9"/>
<path d="M385 507 L389 504.5 L393 506.5 L393 511.5 L389 514 L385 512 Z"/>
<path d="M385 507 L389 509 L393 506.5 M389 509 L389 514" stroke-width="0.8"/>
<path d="M609 521.6 L627.1 500.1 L664 454"/>
<path d="M664 454 C665.4 453.4 670.2 452.2 672.3 450.3 C674.4 448.4 675.7 445.1 676.5 442.8 C677.4 440.4 677.2 437.2 677.4 436"/>
<path d="M627.1 500.1 L689.1 464.6"/>
<path d="M675.7 512.3 C676 510.4 676 503.8 677.4 500.6 C678.8 497.4 683 494.3 684.1 493.1"/>
<path d="M520 295.3 L513.5 299.5 L513.5 303.5 L520 305.7"/>
<path d="M640 406.8 L670.4 380 L698.9 355.5"/>
<path d="M640 394.7 L655 381.5"/>
<path d="M214.7 589 C216.5 587.9 221.1 585.6 225.4 582.5 C229.8 579.5 236.2 574.4 240.5 570.7 C244.8 566.9 249.5 561.7 251.3 559.9"/>
<path d="M222.2 591.1 C224.5 589.3 231 584.7 236.2 580.4 C241.4 576 250.6 567.8 253.5 565.3"/>
<path d="M238.4 535.1 L226.5 555.6"/>
<path d="M441.1 225.1 C442.6 223.4 447.4 217.9 450.3 215.3 C453.2 212.7 455.2 211.2 458.7 209.5 C462.2 207.7 469.2 205.7 471.3 204.9"/>
<path d="M457.8 215.7 C459.9 214.6 466.6 210.6 470.4 209.5 C474.2 208.3 478.1 208.4 480.5 208.6 C482.9 208.8 484 210.3 484.7 210.6"/>
<path d="M456.2 194.4 C457.8 194 463 191.9 466.2 192.2 C469.4 192.5 473.1 194.1 475.5 196 C477.8 198 479.6 202.6 480.5 203.9"/>
<path d="M450.3 230.4 C451.3 229.2 453.4 225.3 456.2 223.4 C459 221.4 465.3 219.5 467.1 218.7"/>
<path d="M437.7 218.7 C439.1 216.6 442.9 209.3 446.1 206.1 C449.3 202.9 455.2 200.5 457 199.4"/>
<path d="M458.8 643.8 Q461 640.5 464.5 641.5 L480.5 659.5 Q482 664 480.3 668.8 L474.5 672.8 Q471 673 469 670 L459 654.5 Q457.5 648 458.8 643.8 Z" stroke-width="1" stroke-dasharray="2.6 2"/>
<ellipse cx="463.5" cy="648" rx="1.2" ry="1.2"/>
<ellipse cx="476" cy="666" rx="1.2" ry="1.2"/>
<path d="M437.5 634 L463 647.5" stroke-width="0.8"/>
<g stroke="#141414"><path d="M353.9 343.1 L380.7 321.8 Q384.7 319.5 386.5 323.8 L385.7 329.5 L360.2 350.8 Q355.7 352.6 353.9 349.1 Z" stroke-width="2" fill="#f8f8f8"/></g>
<g stroke="#141414"><path d="M355.7 343.8 L382.2 323 Q384.7 322 384.7 325" stroke-width="0.9"/></g>
<g stroke="#141414"><ellipse cx="359.2" cy="345.6" rx="2.3" ry="1.5" stroke-width="1.2" transform="rotate(-38 359.2 345.6)"/></g>
<g stroke="#141414"><path d="M365.2 338.8 L372.7 333.8 L378.2 336.3 L378.2 341.3 L370.7 346.3 L365.2 343.8 Z" stroke-width="1.2" fill="#f8f8f8"/></g>
<g stroke="#141414"><path d="M365.2 338.8 L370.7 341.3 L378.2 336.3 M370.7 341.3 L370.7 346.3" stroke-width="0.9"/></g>
<g stroke="#141414"><path d="M361.5 348.1 L376.5 355.6" stroke-width="1"/></g>
<g stroke="#141414"><path d="M379.7 338.8 L409 356.3" stroke-width="0.9"/></g>
<g stroke="#141414"><ellipse cx="378.2" cy="356.6" rx="3.3" ry="2.8" stroke-width="1.8" fill="#f8f8f8"/></g>
<g stroke="#141414"><ellipse cx="378.2" cy="356.1" rx="1.5" ry="1.3" stroke-width="1.2" fill="#555"/></g>
<g stroke="#141414"><path d="M375.2 358.1 L376.5 360.6 L380.2 360.6 L381.7 357.6" stroke-width="1.4"/></g>
<g stroke="#141414"><path d="M212 484.7 Q212 481.7 215 480.7 L222 478.7 Q224.5 478.7 224.5 481.2 L225 494.8 Q225 497.3 222 497.8 L215.5 499.3 Q212.5 499.3 212.5 496.8 Z" stroke-width="1.2" fill="#f8f8f8"/></g>
<g stroke="#141414"><path d="M215 480.7 L215.5 499.3" stroke-width="0.8"/></g>
<g stroke="#141414"><ellipse cx="220" cy="485.7" rx="1" ry="1"/></g>
<g stroke="#141414"><ellipse cx="220" cy="494" rx="1" ry="1"/></g>
<g stroke="#141414"><path d="M218.8 510.8 L225 505.3 L233 510.3 L226 515.8 L239.5 536.6 L234.5 539.8 L220 516.5 Z" fill="#f8f8f8"/></g>
<g stroke="#141414"><path d="M225 505.3 L226 515.8" stroke-width="0.8"/></g>
<g stroke="#141414"><path d="M241.3 524 Q243.8 516.5 249.3 516.5 Q253.8 517.3 255.6 522.8 L263.8 541.6 Q264.6 545.8 260.1 547.3 Q256.3 547.8 253.8 544.1 L242.6 529 Z" stroke-width="2" fill="#f8f8f8"/></g>
<g stroke="#141414"><ellipse cx="247.1" cy="522.8" rx="2" ry="1.5" stroke-width="1.2" transform="rotate(30 247.1 522.8)"/></g>
<g stroke="#141414"><path d="M250.1 530.3 L255.6 527.3 L262.6 536.6 L257.1 540.3 Z" stroke-width="1.2" fill="#f8f8f8"/></g>
<g stroke="#141414"><path d="M259.1 537.8 L275.1 543.3" stroke-width="1"/></g>
<g stroke="#141414"><path d="M253.8 521.5 L227.5 509" stroke-width="0.8"/></g>
<g stroke="#141414"><ellipse cx="273.3" cy="519.8" rx="3.3" ry="2.8" stroke-width="1.8" fill="#f8f8f8"/></g>
<g stroke="#141414"><ellipse cx="273.3" cy="519.3" rx="1.5" ry="1.3" stroke-width="1.2" fill="#555"/></g>
<g stroke="#141414"><path d="M270.3 521.3 L271.6 523.8 L275.3 523.8 L276.8 520.8" stroke-width="1.4"/></g>
<g stroke="#141414"><path d="M262.6 515.3 L270.1 517.8" stroke-width="0.8"/></g>
<g stroke="#141414"><ellipse cx="168.4" cy="599.6" rx="2.8" ry="3" stroke-width="1.6" fill="#f8f8f8"/></g>
<g stroke="#141414"><path d="M169.5 601.9 L175.8 605.2 L177.1 602.5 L170.9 599.3Z" stroke-width="1.2" fill="#666"/></g>
<g stroke="#141414"><ellipse cx="180.2" cy="608.1" rx="2.8" ry="3" stroke-width="2.2" fill="#333"/></g>
<g stroke="#141414"><path d="M184 613.1 L195.2 618.1 L200.7 620.1 L200.2 623.9 L194 623.9 L182.7 616.4 Z" stroke-width="1.4" fill="#f8f8f8"/></g>
<g stroke="#141414"><path d="M186.5 614.6 L192.7 618.1 L192.7 620.6" stroke-width="1"/></g>
<g stroke="#141414"><path d="M173.2 670.2 L178.9 668.9 L183.2 672.2 L181.5 678.9 L175.7 678.2 L173.2 674.7 Z" stroke-width="1.6" fill="#f8f8f8"/></g>
<g stroke="#141414"><path d="M173.2 670.2 L177.7 673.2 L183.2 672.2 M177.7 673.2 L175.7 678.2" stroke-width="1"/></g>
<g stroke="#141414"><path d="M180.5 667.7 L184 669.7" stroke-width="2.2"/></g>
<g stroke="#141414"><path d="M286.4 549.5 L291.4 546.3 L296.4 551.3 L296.4 556.3 L291.4 557.5 L286.4 553.8 Z" stroke-width="1.5" fill="#f8f8f8"/></g>
<g stroke="#141414"><path d="M291.4 546.3 L291.4 557.5" stroke-width="1"/></g>
<g stroke="#141414"><path d="M296.4 553.8 L300.1 557.5" stroke-width="1"/></g>
<g stroke="#141414"><ellipse cx="303.1" cy="560.1" rx="1.5" ry="2.5" stroke-width="1.8" fill="#333" transform="rotate(20 303.1 560.1)"/></g>
<g stroke="#141414"><path d="M307.5 566 L315 569.5 L316.3 566.6 L308.8 563.1Z" stroke-width="1.3" fill="#666"/></g>
<g stroke="#141414"><ellipse cx="318.1" cy="569.3" rx="2.5" ry="2.8" stroke-width="1.8" fill="#f8f8f8"/></g>
<g stroke="#141414"><ellipse cx="354.7" cy="592.1" rx="2.5" ry="2.8" stroke-width="1.8" fill="#f8f8f8"/></g>
<g stroke="#141414"><path d="M356.2 594.6 L363.4 597.1 L364.5 594.1 L357.2 591.6Z" stroke-width="1.3" fill="#666"/></g>
<g stroke="#141414"><ellipse cx="371" cy="600.6" rx="1.5" ry="2.5" stroke-width="1.8" fill="#333" transform="rotate(20 371 600.6)"/></g>
<g stroke="#141414"><path d="M379 603.9 L384 600.6 L391.5 610.1 L391.5 616.4 L387.2 616.4 L379 607.6 Z" stroke-width="1.5" fill="#f8f8f8"/></g>
<g stroke="#141414"><path d="M384 600.6 L384 606.4 L391.5 616.4" stroke-width="1"/></g>
<g stroke="#141414"><path d="M365.2 596.3 L380.2 605.1" stroke-width="0.8"/></g>
<g stroke="#141414"><ellipse cx="400.3" cy="594.6" rx="3.5" ry="3" stroke-width="2" fill="#f8f8f8"/></g>
<g stroke="#141414"><ellipse cx="400.3" cy="594.1" rx="1.5" ry="1.3" stroke-width="1.2" fill="#555"/></g>
<g stroke="#141414"><path d="M402.8 596.3 L409 599.6" stroke-width="0.9"/></g>
<g stroke="#141414"><ellipse cx="239.5" cy="643.2" rx="2.8" ry="3" stroke-width="1.6" fill="#f8f8f8"/></g>
<g stroke="#141414"><path d="M240.7 645.9 L246.3 649.4 L247.9 646.9 L242.4 643.4Z" stroke-width="1.2" fill="#666"/></g>
<g stroke="#141414"><ellipse cx="251.3" cy="653.9" rx="2.8" ry="3" stroke-width="2.2" fill="#333"/></g>
<g stroke="#141414"><path d="M255.1 658.2 L265.6 663.2 L271.3 665.2 L270.6 669.2 L264.6 669.2 L253.8 661.7 Z" stroke-width="1.4" fill="#f8f8f8"/></g>
<g stroke="#141414"><path d="M257.6 659.7 L263.8 663.2 L263.8 666.2" stroke-width="1"/></g>
<g stroke="#141414"><path d="M253.8 714 L259.6 712.2 L264.1 715.7 L262.6 722.3 L256.6 721.8 L253.8 718.2 Z" stroke-width="1.6" fill="#f8f8f8"/></g>
<g stroke="#141414"><path d="M253.8 714 L258.6 716.7 L264.1 715.7 M258.6 716.7 L257.1 721.8" stroke-width="1"/></g>
<g stroke="#141414"><path d="M260.8 708.2 L265.1 710.7" stroke-width="2.2"/></g>
<g stroke="#141414"><path d="M431.3 631.5 Q434.5 625.8 439.5 627.3 Q443.8 629 445.6 634 L453.8 646.6 Q455.1 652.8 450.1 655.8 Q446.3 657.3 442.6 653.3 L432.5 637.8 Z" stroke-width="2" fill="#f8f8f8"/></g>
<g stroke="#141414"><ellipse cx="437" cy="634" rx="1.8" ry="1.3" stroke-width="1.2" transform="rotate(30 437 634)"/></g>
<g stroke="#141414"><ellipse cx="448.1" cy="649.8" rx="1.8" ry="1.3" stroke-width="1.2" transform="rotate(30 448.1 649.8)"/></g>
<g stroke="#141414"><path d="M555.2 448.8 L575.2 435 L579 437.5 L560.2 451.3 Z" stroke-width="1.2" fill="#f8f8f8"/></g>
<g stroke="#141414"><path d="M551.4 456.3 L579.7 435 Q583.2 433.8 584 437.5 L583.2 443.1 L555.7 464.6 Q552.2 465.6 551.4 462.1 Z" stroke-width="2" fill="#f8f8f8"/></g>
<g stroke="#141414"><ellipse cx="555.7" cy="459.6" rx="2" ry="1.3" stroke-width="1.2" transform="rotate(-38 555.7 459.6)"/></g>
<g stroke="#141414"><ellipse cx="580.2" cy="439.5" rx="1.3" ry="1" transform="rotate(-38 580.2 439.5)"/></g>
<g stroke="#141414"><path d="M584 441.3 L590.2 445.1" stroke-width="0.9"/></g>
<g stroke="#141414"><ellipse cx="558.9" cy="428.8" rx="3.5" ry="3" stroke-width="2" fill="#f8f8f8"/></g>
<g stroke="#141414"><ellipse cx="558.9" cy="428.3" rx="1.5" ry="1.3" stroke-width="1.2" fill="#555"/></g>
<g stroke="#141414"><path d="M562.7 430 L576.5 437.5" stroke-width="0.9"/></g>
<g stroke="#141414"><path d="M517.6 426.3 L530.2 418.8 L536.4 420 L537.2 425 L533.9 426.3 L531.4 423 L525.2 427 L524.7 431.3 L519.6 432 Z" stroke-width="1.5" fill="#f8f8f8"/></g>
<g stroke="#141414"><ellipse cx="513.9" cy="417.5" rx="1.5" ry="2.5" stroke-width="1.8" fill="#333" transform="rotate(20 513.9 417.5)"/></g>
<g stroke="#141414"><ellipse cx="497.6" cy="408" rx="2.5" ry="2.8" stroke-width="1.8" fill="#f8f8f8"/></g>
<g stroke="#141414"><path d="M499 410.5 L507 414 L508.3 411 L500.3 407.5Z" stroke-width="1.3" fill="#666"/></g>
<g stroke="#141414"><path d="M507.6 412.5 L550.2 433.8" stroke-width="0.8"/></g>
<g stroke="#141414"><path d="M493.1 425 L499.6 412" stroke-width="0.8"/></g>
<g stroke="#141414"><path d="M506.4 435 L513.1 421" stroke-width="0.8"/></g>
<g stroke="#141414"><path d="M519.6 447.6 L521.2 432" stroke-width="0.8"/></g>
<g stroke="#141414"><path d="M575.2 411.3 L562.2 425" stroke-width="0.8"/></g>
<g stroke="#141414"><path d="M595.2 417.5 L581.5 433.8" stroke-width="0.8"/></g>
<g stroke="#141414"><path d="M376.1 337.8 L412.2 359.6 M420.5 363.8 L437.3 373" stroke-width="0.8"/></g>
<g stroke="#141414"><path d="M414.7 354.6 Q417.2 352 421.4 353.4 L424.7 355.7 L424.7 360.4 L421.9 361.3 L420.5 358.4 L416.4 358.7 Z" stroke-width="1.5" fill="#f8f8f8"/></g>
<g stroke="#141414"><path d="M409.6 362.4 L419.7 357.1 L421.4 360.4 L421.4 363.8 L412.5 368.8 L409.6 367.1 Z" stroke-width="1.4" fill="#f8f8f8"/></g>
<g stroke="#141414"><path d="M409.6 362.4 L412.5 364.6 L421.4 360.4 M412.5 364.6 L412.5 368.8" stroke-width="0.9"/></g>
<g stroke="#141414"><ellipse cx="428.1" cy="367.5" rx="1.3" ry="2.2" stroke-width="1.8" fill="#333" transform="rotate(20 428.1 367.5)"/></g>
<g stroke="#141414"><path d="M434 373.3 L441.2 377 L442.8 374 L435.6 370.3Z" stroke-width="1.3" fill="#666"/></g>
<g stroke="#141414"><ellipse cx="445.4" cy="377.2" rx="2.2" ry="2.7" stroke-width="2" fill="#f8f8f8" transform="rotate(15 445.4 377.2)"/></g>
<g stroke="#141414"><path d="M422.2 394.8 L429.8 375.5 L442.3 381.4 L435.6 400.7 Z" stroke-width="1.2" fill="#f8f8f8"/></g>
<g stroke="#141414"><path d="M437.3 383.9 L430.6 399" stroke-width="0.8"/></g>
<g stroke="#141414"><ellipse cx="431.6" cy="382.6" rx="1.5" ry="1.2" stroke-width="1"/></g>
<g stroke="#141414"><ellipse cx="427.6" cy="392.3" rx="1.5" ry="1.2" stroke-width="1"/></g>
<g stroke="#141414"><path d="M413 315.2 L396.2 320.2" stroke-width="0.8"/></g>
<g stroke="#141414"><path d="M423.9 338.6 L421.4 352.9" stroke-width="0.8"/></g>
<g stroke="#141414"><path d="M437.3 350.4 L429.8 365.5" stroke-width="0.8"/></g>
<g stroke="#141414"><path d="M454.9 357.1 L445.7 375.5" stroke-width="0.8"/></g>
<g stroke="#141414"><path d="M346.8 362.1 L355.2 351.2" stroke-width="0.8"/></g>
<g stroke="#141414"><path d="M371.9 373.8 L377.8 360.4" stroke-width="0.8"/></g>
<g stroke="#141414"><path d="M397.2 297.4 L397.7 296.2 L398.4 294.6 L399.2 292.7 L400.1 290.7 L401.1 288.4 L402.2 286.1 L403.3 283.8 L404.4 281.6 L405.5 279.3 L406.7 277 L408 274.6 L409.3 272.2 L410.7 269.7 L412.2 267.1 L413.7 264.6 L415.4 261.9 L417.3 259.1 L419.3 256.1 L421.5 252.9 L423.7 249.8 L426 246.7 L428.2 243.7 L430.4 241 L432.6 238.6 L434.6 236.5 L436.7 234.6 L438.8 232.8 L440.9 231.2 L443 229.7 L445.1 228.2 L447.2 226.8 L449.3 225.5 L451.5 224.2 L453.6 223 L455.8 221.9 L457.9 220.9 L460.1 219.9 L462.1 219.1 L464.1 218.4 L466 217.9 L467.7 217.4 L469.4 217.1 L471 216.8 L472.6 216.6 L474 216.6 L475.3 216.7 L476.6 216.8 L477.8 217.1 L478.9 217.5 L480 218 L481 218.6 L482.1 219.4 L483.1 220.2 L484.1 221.2 L485 222.2 L485.9 223.3 L486.8 224.6 L487.6 225.9 L488.4 227.5 L489.1 229.2 L489.8 230.9 L490.5 232.7 L491.1 234.4 L491.7 236 L492.1 237.6 L492.5 239.3 L492.9 241.1 L493.2 242.9 L493.4 244.6 L493.7 246.2 L493.9 247.5 L494 248.6 L501 247.4 L500.8 246.5 L500.6 245.2 L500.4 243.6 L500.1 241.8 L499.8 239.9 L499.4 237.9 L498.9 235.9 L498.3 234 L497.7 232.1 L497.1 230.3 L496.4 228.3 L495.6 226.4 L494.7 224.5 L493.7 222.6 L492.7 220.8 L491.6 219.2 L490.4 217.7 L489.1 216.3 L487.8 215 L486.4 213.8 L484.8 212.7 L483.2 211.8 L481.5 211 L479.7 210.4 L477.9 210 L476 209.7 L474.1 209.6 L472.1 209.7 L470.2 209.9 L468.2 210.2 L466.1 210.6 L464 211.1 L461.9 211.8 L459.7 212.6 L457.4 213.5 L455 214.5 L452.7 215.6 L450.3 216.8 L448 218.1 L445.7 219.5 L443.4 220.9 L441.2 222.4 L438.9 223.9 L436.6 225.6 L434.3 227.4 L432 229.4 L429.7 231.5 L427.4 233.9 L425.1 236.5 L422.7 239.4 L420.4 242.5 L418 245.7 L415.7 248.9 L413.5 252.1 L411.5 255.2 L409.6 258.1 L407.8 260.9 L406.1 263.6 L404.6 266.2 L403.2 268.8 L401.8 271.3 L400.5 273.8 L399.3 276.1 L398.1 278.4 L397 280.8 L395.8 283.2 L394.7 285.6 L393.7 287.8 L392.8 290 L392 291.8 L391.3 293.4 L390.8 294.6Z" fill="#f8f8f8" stroke="none"/></g>
<g stroke="#141414"><path d="M397.2 297.4 L397.7 296.2 L398.4 294.6 L399.2 292.7 L400.1 290.7 L401.1 288.4 L402.2 286.1 L403.3 283.8 L404.4 281.6 L405.5 279.3 L406.7 277 L408 274.6 L409.3 272.2 L410.7 269.7 L412.2 267.1 L413.7 264.6 L415.4 261.9 L417.3 259.1 L419.3 256.1 L421.5 252.9 L423.7 249.8 L426 246.7 L428.2 243.7 L430.4 241 L432.6 238.6 L434.6 236.5 L436.7 234.6 L438.8 232.8 L440.9 231.2 L443 229.7 L445.1 228.2 L447.2 226.8 L449.3 225.5 L451.5 224.2 L453.6 223 L455.8 221.9 L457.9 220.9 L460.1 219.9 L462.1 219.1 L464.1 218.4 L466 217.9 L467.7 217.4 L469.4 217.1 L471 216.8 L472.6 216.6 L474 216.6 L475.3 216.7 L476.6 216.8 L477.8 217.1 L478.9 217.5 L480 218 L481 218.6 L482.1 219.4 L483.1 220.2 L484.1 221.2 L485 222.2 L485.9 223.3 L486.8 224.6 L487.6 225.9 L488.4 227.5 L489.1 229.2 L489.8 230.9 L490.5 232.7 L491.1 234.4 L491.7 236 L492.1 237.6 L492.5 239.3 L492.9 241.1 L493.2 242.9 L493.4 244.6 L493.7 246.2 L493.9 247.5 L494 248.6" stroke="#111" stroke-width="1.6"/></g>
<g stroke="#141414"><path d="M390.8 294.6 L391.3 293.4 L392 291.8 L392.8 290 L393.7 287.8 L394.7 285.6 L395.8 283.2 L397 280.8 L398.1 278.4 L399.3 276.1 L400.5 273.8 L401.8 271.3 L403.2 268.8 L404.6 266.2 L406.1 263.6 L407.8 260.9 L409.6 258.1 L411.5 255.2 L413.5 252.1 L415.7 248.9 L418 245.7 L420.4 242.5 L422.7 239.4 L425.1 236.5 L427.4 233.9 L429.7 231.5 L432 229.4 L434.3 227.4 L436.6 225.6 L438.9 223.9 L441.2 222.4 L443.4 220.9 L445.7 219.5 L448 218.1 L450.3 216.8 L452.7 215.6 L455 214.5 L457.4 213.5 L459.7 212.6 L461.9 211.8 L464 211.1 L466.1 210.6 L468.2 210.2 L470.2 209.9 L472.1 209.7 L474.1 209.6 L476 209.7 L477.9 210 L479.7 210.4 L481.5 211 L483.2 211.8 L484.8 212.7 L486.4 213.8 L487.8 215 L489.1 216.3 L490.4 217.7 L491.6 219.2 L492.7 220.8 L493.7 222.6 L494.7 224.5 L495.6 226.4 L496.4 228.3 L497.1 230.3 L497.7 232.1 L498.3 234 L498.9 235.9 L499.4 237.9 L499.8 239.9 L500.1 241.8 L500.4 243.6 L500.6 245.2 L500.8 246.5 L501 247.4" stroke="#111" stroke-width="1.6"/></g>
<g stroke="#141414"><path d="M492.4 248.8 L492.6 258.1 L501.8 257.9 L501.6 248.6Z" stroke-width="1.5" fill="#f8f8f8"/></g>
<g stroke="#141414"><path d="M493.4 258.7 L493.5 264.4 L501.1 264.2 L501 258.5Z" stroke-width="1.5" fill="#444"/></g>
<g stroke="#141414"><path d="M493.8 261.6 L500.8 261.6" stroke-width="1"/></g>
<g stroke="#141414"><path d="M496.4 264.5 L496.4 270.5 L498.2 270.5 L498.2 264.5Z" stroke-width="0.9" fill="#f8f8f8"/></g>
<g stroke="#141414"><path d="M493.5 270.6 L493.5 279.2 L500.9 279.2 L500.9 270.6Z" stroke-width="1.5" fill="#666"/></g>
<g stroke="#141414"><path d="M493.6 273.5 L500.8 273.5 M493.6 276.5 L500.8 276.5" stroke-width="0.9"/></g>
<g stroke="#141414"><path d="M394.2 286 L388.7 298 L397.3 302 L402.8 290Z" stroke-width="1.2" fill="#f8f8f8"/></g>
<g stroke="#141414"><path d="M390.5 299.5 L389.5 304.5 L394.5 305.5 L395.5 300.5Z" stroke-width="1" fill="#f8f8f8"/></g>
<g stroke="#141414"><ellipse cx="392" cy="309.5" rx="4" ry="3.6" stroke-width="1.6" fill="#666"/></g>
<g stroke="#141414"><path d="M392 313 L393.5 320 L395.5 330" stroke-width="0.8"/></g>
<g stroke="#141414"><path d="M391 318.5 Q393 322.5 396 319" stroke-width="1.2"/></g>
<g stroke="#141414"><path d="M660.1 315.6 L659.9 314.1 L659.7 312.1 L659.5 309.6 L659.2 306.9 L658.9 304 L658.5 301.1 L658.1 298.4 L657.5 296 L656.8 294 L656.1 292.1 L655.3 290.3 L654.4 288.6 L653.4 287 L652.3 285.5 L651.1 284.1 L649.8 282.8 L648.4 281.5 L647 280.4 L645.4 279.3 L643.7 278.4 L641.9 277.5 L640.1 276.8 L638.1 276.3 L636.1 275.9 L634.1 275.8 L632 275.8 L629.9 276 L627.8 276.4 L625.7 276.8 L623.7 277.3 L621.6 277.9 L619.5 278.6 L617.4 279.3 L615.3 280.1 L613.1 280.9 L610.9 281.9 L608.6 282.9 L606.4 284 L604.2 285.2 L602 286.5 L599.8 287.8 L597.7 289.2 L595.5 290.7 L593.4 292.3 L591.2 293.9 L589 295.6 L586.9 297.5 L584.7 299.4 L582.6 301.4 L580.5 303.5 L578.3 305.6 L576.1 307.9 L574 310.3 L571.8 312.8 L569.6 315.5 L567.5 318.5 L565.3 321.6 L563 325.1 L560.7 328.7 L558.5 332.4 L556.3 336.3 L554.2 340.1 L552.2 343.8 L550.4 347.5 L548.6 351.2 L546.9 355.2 L545.4 359.2 L543.9 363.1 L542.6 366.7 L541.4 370 L540.5 372.7 L539.7 374.8 L546.3 377.2 L547.1 375.1 L548 372.4 L549.2 369.1 L550.5 365.5 L551.9 361.7 L553.4 357.8 L555 354 L556.6 350.5 L558.4 347.1 L560.3 343.4 L562.4 339.7 L564.5 336 L566.7 332.3 L568.9 328.8 L571.1 325.5 L573.1 322.5 L575.2 319.8 L577.2 317.3 L579.2 314.9 L581.3 312.6 L583.3 310.5 L585.4 308.5 L587.4 306.5 L589.5 304.6 L591.5 302.7 L593.5 301 L595.5 299.4 L597.5 297.9 L599.5 296.4 L601.6 295.1 L603.6 293.7 L605.6 292.5 L607.6 291.3 L609.6 290.2 L611.7 289.2 L613.7 288.3 L615.8 287.4 L617.8 286.6 L619.7 285.9 L621.7 285.2 L623.6 284.6 L625.5 284.1 L627.3 283.6 L629.1 283.2 L630.8 283 L632.4 282.8 L633.9 282.8 L635.3 282.9 L636.6 283.1 L637.9 283.5 L639.2 284 L640.5 284.6 L641.7 285.3 L642.9 286.1 L644 286.9 L645 287.8 L645.9 288.8 L646.8 289.8 L647.6 290.9 L648.3 292.1 L649 293.4 L649.6 294.8 L650.2 296.3 L650.7 298 L651.2 299.9 L651.6 302.2 L652 304.9 L652.3 307.6 L652.5 310.3 L652.8 312.7 L653 314.8 L653.1 316.4Z" fill="#f8f8f8" stroke="none"/></g>
<g stroke="#141414"><path d="M660.1 315.6 L659.9 314.1 L659.7 312.1 L659.5 309.6 L659.2 306.9 L658.9 304 L658.5 301.1 L658.1 298.4 L657.5 296 L656.8 294 L656.1 292.1 L655.3 290.3 L654.4 288.6 L653.4 287 L652.3 285.5 L651.1 284.1 L649.8 282.8 L648.4 281.5 L647 280.4 L645.4 279.3 L643.7 278.4 L641.9 277.5 L640.1 276.8 L638.1 276.3 L636.1 275.9 L634.1 275.8 L632 275.8 L629.9 276 L627.8 276.4 L625.7 276.8 L623.7 277.3 L621.6 277.9 L619.5 278.6 L617.4 279.3 L615.3 280.1 L613.1 280.9 L610.9 281.9 L608.6 282.9 L606.4 284 L604.2 285.2 L602 286.5 L599.8 287.8 L597.7 289.2 L595.5 290.7 L593.4 292.3 L591.2 293.9 L589 295.6 L586.9 297.5 L584.7 299.4 L582.6 301.4 L580.5 303.5 L578.3 305.6 L576.1 307.9 L574 310.3 L571.8 312.8 L569.6 315.5 L567.5 318.5 L565.3 321.6 L563 325.1 L560.7 328.7 L558.5 332.4 L556.3 336.3 L554.2 340.1 L552.2 343.8 L550.4 347.5 L548.6 351.2 L546.9 355.2 L545.4 359.2 L543.9 363.1 L542.6 366.7 L541.4 370 L540.5 372.7 L539.7 374.8" stroke="#111" stroke-width="1.6"/></g>
<g stroke="#141414"><path d="M653.1 316.4 L653 314.8 L652.8 312.7 L652.5 310.3 L652.3 307.6 L652 304.9 L651.6 302.2 L651.2 299.9 L650.7 298 L650.2 296.3 L649.6 294.8 L649 293.4 L648.3 292.1 L647.6 290.9 L646.8 289.8 L645.9 288.8 L645 287.8 L644 286.9 L642.9 286.1 L641.7 285.3 L640.5 284.6 L639.2 284 L637.9 283.5 L636.6 283.1 L635.3 282.9 L633.9 282.8 L632.4 282.8 L630.8 283 L629.1 283.2 L627.3 283.6 L625.5 284.1 L623.6 284.6 L621.7 285.2 L619.7 285.9 L617.8 286.6 L615.8 287.4 L613.7 288.3 L611.7 289.2 L609.6 290.2 L607.6 291.3 L605.6 292.5 L603.6 293.7 L601.6 295.1 L599.5 296.4 L597.5 297.9 L595.5 299.4 L593.5 301 L591.5 302.7 L589.5 304.6 L587.4 306.5 L585.4 308.5 L583.3 310.5 L581.3 312.6 L579.2 314.9 L577.2 317.3 L575.2 319.8 L573.1 322.5 L571.1 325.5 L568.9 328.8 L566.7 332.3 L564.5 336 L562.4 339.7 L560.3 343.4 L558.4 347.1 L556.6 350.5 L555 354 L553.4 357.8 L551.9 361.7 L550.5 365.5 L549.2 369.1 L548 372.4 L547.1 375.1 L546.3 377.2" stroke="#111" stroke-width="1.6"/></g>
<g stroke="#141414"><path d="M651.9 315.4 L652.4 326.2 L661.6 325.8 L661.1 315Z" stroke-width="1.5" fill="#f8f8f8"/></g>
<g stroke="#141414"><path d="M653.4 326.5 L653.6 332.7 L660.8 332.5 L660.6 326.3Z" stroke-width="1.4" fill="#555"/></g>
<g stroke="#141414"><path d="M653.8 329.5 L660.4 329.5" stroke-width="0.9"/></g>
<g stroke="#141414"><path d="M543.1 367.9 L537.1 379.9 L545.5 384.1 L551.5 372.1Z" stroke-width="1.2" fill="#f8f8f8"/></g>
<g stroke="#141414"><path d="M538.9 381.5 L537.8 386.5 L542.6 387.5 L543.7 382.5Z" stroke-width="1" fill="#f8f8f8"/></g>
<g stroke="#141414"><ellipse cx="539.8" cy="392" rx="4" ry="3.6" stroke-width="1.6" fill="#666"/></g>
<g stroke="#141414"><path d="M540.3 396 L541.8 404 L543.5 413" stroke-width="0.8"/></g>
<g stroke="#141414"><path d="M539.3 401 Q541.3 405 544.3 402" stroke-width="1.2"/></g>
<g stroke="#141414"><path d="M229 557.5 L184 532 Q175.2 527.5 168.2 533 L115.1 608.1 Q110.6 616.4 116.4 623.9 L144.7 640.7"/></g>
<g stroke="#141414"><path d="M165.2 636.4 L180.2 628.9"/></g>
<g stroke="#141414"><path d="M150.2 642.2 L163.9 646.4" stroke-width="0.9"/></g>
<g stroke="#141414"><path d="M116.4 624.6 C114.3 628.7 106.8 642.7 103.9 648.9 C100.9 655.2 98.4 658.2 98.8 662.2 C99.3 666.1 101.1 671.8 106.4 672.7 C111.6 673.6 124.8 668.9 130.1 667.7 C135.4 666.5 136.8 666 138.1 665.7"/></g>
<g stroke="#141414"><path d="M138.1 665.7 C135.1 668.1 125.2 675.3 120.1 680.2 C115 685.1 110.2 690.2 107.6 695.2 C105 700.2 104.5 705.6 104.6 710.2 C104.7 714.8 105.9 719.6 108.1 722.8 C110.3 725.9 116 728.2 117.6 729.3"/></g>
<g stroke="#141414"><path d="M117.6 729.3 L167.2 727.8"/></g>
<g stroke="#141414"><path d="M121.4 680.2 C119.8 683.3 113.7 692.9 112.1 699 C110.6 705 110.7 711.7 112.1 716.5 C113.5 721.3 119.2 725.9 120.6 727.8"/></g>
<g stroke="#141414"><ellipse cx="133.9" cy="704.7" rx="18.8" ry="24.5" transform="rotate(25 133.9 704.7)"/></g>
<g stroke="#141414"><ellipse cx="135.6" cy="705.7" rx="10.5" ry="15" transform="rotate(25 135.6 705.7)"/></g>
<g stroke="#141414"><ellipse cx="137.6" cy="707.2" rx="8.5" ry="12.5" transform="rotate(25 137.6 707.2)"/></g>
<g stroke="#141414"><path d="M121.4 730.8 C118.7 735.3 110.8 747.9 105.1 757.8 C99.4 767.7 90.1 784.7 87.1 790.1"/></g>
<g stroke="#141414"><ellipse cx="190.2" cy="735.8" rx="10.5" ry="13.8" transform="rotate(25 190.2 735.8)"/></g>
<g stroke="#141414"><ellipse cx="188.2" cy="737.3" rx="8.3" ry="11.3" transform="rotate(25 188.2 737.3)"/></g>
<g stroke="#141414"><path d="M78.8 683.2 L83.8 676.7 L96.3 680.7 L93.1 690.7 L80.1 688.2 Z"/></g>
<g stroke="#141414"><path d="M83.8 676.7 L85.6 684 L80.1 688.2 M85.6 684 L93.1 690.7" stroke-width="0.8"/></g>
<g stroke="#141414"><ellipse cx="85.6" cy="682.2" rx="0.8" ry="0.8"/></g>
<g stroke="#141414"><ellipse cx="91.3" cy="685.2" rx="0.8" ry="0.8"/></g>
<g stroke="#141414"><ellipse cx="215.2" cy="728.3" rx="6.5" ry="6.5" stroke-width="1.2"/></g>
<g stroke="#141414"><ellipse cx="215.7" cy="727.8" rx="3.5" ry="3" stroke-width="1.2"/></g>
<g stroke="#141414"><path d="M217.7 725.8 L222.3 726.8 L221.8 730.3 L218.2 730.8"/></g>
<g stroke="#141414"><path d="M133.9 592.6 L217.7 638.1"/></g>
<g stroke="#141414"><path d="M133.9 593.1 L200.2 627.1"/></g>
<g stroke="#141414"><path d="M160.2 618.1 L160.2 622.1 L171.4 626.6 L176.4 622.1 L167.7 618.1 L163.9 613.9" stroke-width="1"/></g>
<g stroke="#141414"><path d="M160.2 618.1 L171.4 622.6 L171.4 626.6" stroke-width="0.8"/></g>
<g stroke="#141414"><path d="M176.4 582.6 L171.4 596.3" stroke-width="0.8"/></g>
<g stroke="#141414"><path d="M192.7 593.1 L182.7 605.6" stroke-width="0.8"/></g>
<g stroke="#141414"><path d="M208.2 606.4 L196.5 616.4" stroke-width="0.8"/></g>
<g stroke="#141414"><path d="M169.7 656.4 L182.7 667.7" stroke-width="0.8"/></g>
<g stroke="#141414"><path d="M156.4 667.7 L173.2 671.4" stroke-width="0.8"/></g>
<g stroke="#141414"><path d="M190.4 653.7 L184.8 662.7 L191.1 666.7 L196.8 657.7Z" stroke-width="1.3" fill="#f8f8f8"/></g>
<g stroke="#141414"><path d="M185.7 663.2 L183.7 666.2 L188.2 669.2 L190.2 666.2Z" stroke-width="1.2" fill="#f8f8f8"/></g>
<g stroke="#141414"><path d="M268.1 692.9 L263.8 700.4 L270.3 704.1 L274.6 696.6Z" stroke-width="1.3" fill="#f8f8f8"/></g>
<g stroke="#141414"><path d="M264.7 700.9 L262.7 704.4 L267.5 707.1 L269.5 703.6Z" stroke-width="1.2" fill="#f8f8f8"/></g>
<g stroke="#141414"><path d="M392.8 331.4 L392.9 332.4 L393 333.8 L393.2 335.3 L393.4 337.1 L393.6 339 L393.9 340.9 L394.1 342.7 L394.3 344.4 L394.5 346 L394.6 347.6 L394.8 349.1 L394.9 350.7 L395.1 352.4 L395.3 354.1 L395.6 355.8 L395.9 357.7 L396.4 359.7 L396.9 361.9 L397.5 364.1 L398 366.2 L398.6 368.3 L399.1 370.3 L399.5 372.1 L399.8 373.6 L400 374.9 L400.1 376.1 L400.2 377 L400.2 377.8 L400.2 378.6 L400.1 379.4 L400 380.2 L399.8 381.1 L399.5 382 L399.2 382.9 L398.8 383.9 L398.4 384.9 L397.8 386 L397.3 387.1 L396.7 388.2 L396.1 389.3 L395.5 390.4 L394.9 391.5 L394.2 392.6 L393.6 393.7 L392.9 394.7 L392.2 395.9 L391.4 397 L390.6 398.2 L389.7 399.3 L388.8 400.5 L387.9 401.8 L386.9 403 L385.9 404.3 L384.8 405.6 L383.8 406.9 L382.8 408.1 L381.9 409.3 L381 410.4 L380.1 411.5 L379.3 412.5 L378.4 413.7 L377.3 415 L376.1 416.4 L374.7 418.2 L373.1 420.2 L371.3 422.5 L369.3 424.9 L367.3 427.5 L365.1 430.2 L362.9 432.9 L360.8 435.6 L358.8 438.2 L356.9 440.6 L355.1 442.9 L353.4 445.1 L351.7 447.3 L349.8 449.7 L347.8 452.3 L345.5 455.3 L342.8 458.8 L339.6 462.9 L336.1 467.5 L332.3 472.6 L328.3 477.9 L324.2 483.3 L320.1 488.6 L316.2 493.6 L312.5 498.2 L309 502.5 L305.6 506.6 L302.3 510.5 L299 514.3 L295.7 518 L292.5 521.7 L289.2 525.4 L286 529.2 L282.5 533.3 L278.8 537.6 L275.1 542 L271.4 546.4 L267.9 550.5 L264.7 554.2 L262.1 557.3 L260.1 559.6 L264.1 563 L266.1 560.7 L268.7 557.6 L271.9 553.9 L275.4 549.8 L279.1 545.5 L282.9 541.1 L286.6 536.8 L290 532.8 L293.3 529 L296.6 525.3 L299.8 521.6 L303.1 517.9 L306.5 514.1 L309.9 510.2 L313.3 506.1 L316.9 501.8 L320.6 497.1 L324.6 492 L328.7 486.7 L332.7 481.3 L336.8 476 L340.6 470.9 L344.1 466.3 L347.2 462.2 L349.9 458.7 L352.2 455.8 L354.3 453.1 L356.1 450.8 L357.9 448.6 L359.6 446.4 L361.3 444.2 L363.2 441.8 L365.3 439.2 L367.4 436.5 L369.6 433.8 L371.7 431.1 L373.8 428.5 L375.8 426.1 L377.6 423.8 L379.3 421.8 L380.7 420.1 L381.8 418.6 L382.9 417.4 L383.8 416.2 L384.7 415.2 L385.5 414.1 L386.4 413 L387.4 411.9 L388.4 410.6 L389.5 409.4 L390.5 408.1 L391.6 406.8 L392.6 405.6 L393.7 404.3 L394.7 403.1 L395.6 401.8 L396.5 400.7 L397.4 399.5 L398.2 398.4 L399 397.2 L399.8 396.1 L400.5 395 L401.2 393.8 L401.9 392.7 L402.6 391.6 L403.3 390.4 L404 389.3 L404.6 388.1 L405.3 386.9 L405.9 385.6 L406.4 384.3 L406.8 382.9 L407.1 381.7 L407.4 380.5 L407.5 379.3 L407.6 378 L407.6 376.8 L407.5 375.4 L407.4 374 L407.2 372.4 L406.9 370.6 L406.4 368.5 L405.9 366.4 L405.3 364.3 L404.7 362.1 L404.1 360 L403.7 358.1 L403.3 356.3 L403 354.6 L402.8 353 L402.6 351.5 L402.4 349.9 L402.2 348.4 L402.1 346.8 L401.9 345.2 L401.7 343.6 L401.5 341.8 L401.3 340 L401.1 338.1 L400.9 336.3 L400.7 334.5 L400.5 332.9 L400.3 331.6 L400.2 330.6Z" fill="#f8f8f8" stroke="none"/></g>
<g stroke="#141414"><path d="M392.8 331.4 L392.9 332.4 L393 333.8 L393.2 335.3 L393.4 337.1 L393.6 339 L393.9 340.9 L394.1 342.7 L394.3 344.4 L394.5 346 L394.6 347.6 L394.8 349.1 L394.9 350.7 L395.1 352.4 L395.3 354.1 L395.6 355.8 L395.9 357.7 L396.4 359.7 L396.9 361.9 L397.5 364.1 L398 366.2 L398.6 368.3 L399.1 370.3 L399.5 372.1 L399.8 373.6 L400 374.9 L400.1 376.1 L400.2 377 L400.2 377.8 L400.2 378.6 L400.1 379.4 L400 380.2 L399.8 381.1 L399.5 382 L399.2 382.9 L398.8 383.9 L398.4 384.9 L397.8 386 L397.3 387.1 L396.7 388.2 L396.1 389.3 L395.5 390.4 L394.9 391.5 L394.2 392.6 L393.6 393.7 L392.9 394.7 L392.2 395.9 L391.4 397 L390.6 398.2 L389.7 399.3 L388.8 400.5 L387.9 401.8 L386.9 403 L385.9 404.3 L384.8 405.6 L383.8 406.9 L382.8 408.1 L381.9 409.3 L381 410.4 L380.1 411.5 L379.3 412.5 L378.4 413.7 L377.3 415 L376.1 416.4 L374.7 418.2 L373.1 420.2 L371.3 422.5 L369.3 424.9 L367.3 427.5 L365.1 430.2 L362.9 432.9 L360.8 435.6 L358.8 438.2 L356.9 440.6 L355.1 442.9 L353.4 445.1 L351.7 447.3 L349.8 449.7 L347.8 452.3 L345.5 455.3 L342.8 458.8 L339.6 462.9 L336.1 467.5 L332.3 472.6 L328.3 477.9 L324.2 483.3 L320.1 488.6 L316.2 493.6 L312.5 498.2 L309 502.5 L305.6 506.6 L302.3 510.5 L299 514.3 L295.7 518 L292.5 521.7 L289.2 525.4 L286 529.2 L282.5 533.3 L278.8 537.6 L275.1 542 L271.4 546.4 L267.9 550.5 L264.7 554.2 L262.1 557.3 L260.1 559.6" stroke="#111" stroke-width="1.6"/></g>
<g stroke="#141414"><path d="M400.2 330.6 L400.3 331.6 L400.5 332.9 L400.7 334.5 L400.9 336.3 L401.1 338.1 L401.3 340 L401.5 341.8 L401.7 343.6 L401.9 345.2 L402.1 346.8 L402.2 348.4 L402.4 349.9 L402.6 351.5 L402.8 353 L403 354.6 L403.3 356.3 L403.7 358.1 L404.1 360 L404.7 362.1 L405.3 364.3 L405.9 366.4 L406.4 368.5 L406.9 370.6 L407.2 372.4 L407.4 374 L407.5 375.4 L407.6 376.8 L407.6 378 L407.5 379.3 L407.4 380.5 L407.1 381.7 L406.8 382.9 L406.4 384.3 L405.9 385.6 L405.3 386.9 L404.6 388.1 L404 389.3 L403.3 390.4 L402.6 391.6 L401.9 392.7 L401.2 393.8 L400.5 395 L399.8 396.1 L399 397.2 L398.2 398.4 L397.4 399.5 L396.5 400.7 L395.6 401.8 L394.7 403.1 L393.7 404.3 L392.6 405.6 L391.6 406.8 L390.5 408.1 L389.5 409.4 L388.4 410.6 L387.4 411.9 L386.4 413 L385.5 414.1 L384.7 415.2 L383.8 416.2 L382.9 417.4 L381.8 418.6 L380.7 420.1 L379.3 421.8 L377.6 423.8 L375.8 426.1 L373.8 428.5 L371.7 431.1 L369.6 433.8 L367.4 436.5 L365.3 439.2 L363.2 441.8 L361.3 444.2 L359.6 446.4 L357.9 448.6 L356.1 450.8 L354.3 453.1 L352.2 455.8 L349.9 458.7 L347.2 462.2 L344.1 466.3 L340.6 470.9 L336.8 476 L332.7 481.3 L328.7 486.7 L324.6 492 L320.6 497.1 L316.9 501.8 L313.3 506.1 L309.9 510.2 L306.5 514.1 L303.1 517.9 L299.8 521.6 L296.6 525.3 L293.3 529 L290 532.8 L286.6 536.8 L282.9 541.1 L279.1 545.5 L275.4 549.8 L271.9 553.9 L268.7 557.6 L266.1 560.7 L264.1 563" stroke="#111" stroke-width="1.6"/></g>
<g stroke="#141414"><path d="M252.3 559.4 L250.7 561.9 L248.6 565.2 L246.1 569.1 L243.3 573.5 L240.3 578.1 L237.3 582.8 L234.3 587.4 L231.6 591.7 L229 595.7 L226.4 599.8 L223.8 604 L221.2 608.1 L218.6 612.2 L216 616.2 L213.5 620.3 L211 624.2 L208.4 628.3 L205.6 632.6 L202.8 637 L200 641.3 L197.4 645.3 L195 648.9 L193.1 652 L191.6 654.3 L195.6 656.9 L197.1 654.6 L199.1 651.5 L201.4 647.9 L204 643.9 L206.8 639.6 L209.6 635.2 L212.4 630.9 L215 626.8 L217.6 622.8 L220.1 618.8 L222.7 614.8 L225.3 610.7 L228 606.6 L230.6 602.5 L233.2 598.4 L235.8 594.3 L238.6 590.1 L241.5 585.5 L244.5 580.9 L247.5 576.3 L250.4 571.9 L252.9 568 L255.1 564.7 L256.7 562.2Z" fill="#f8f8f8" stroke="none"/></g>
<g stroke="#141414"><path d="M252.3 559.4 L250.7 561.9 L248.6 565.2 L246.1 569.1 L243.3 573.5 L240.3 578.1 L237.3 582.8 L234.3 587.4 L231.6 591.7 L229 595.7 L226.4 599.8 L223.8 604 L221.2 608.1 L218.6 612.2 L216 616.2 L213.5 620.3 L211 624.2 L208.4 628.3 L205.6 632.6 L202.8 637 L200 641.3 L197.4 645.3 L195 648.9 L193.1 652 L191.6 654.3" stroke="#111" stroke-width="1.6"/></g>
<g stroke="#141414"><path d="M256.7 562.2 L255.1 564.7 L252.9 568 L250.4 571.9 L247.5 576.3 L244.5 580.9 L241.5 585.5 L238.6 590.1 L235.8 594.3 L233.2 598.4 L230.6 602.5 L228 606.6 L225.3 610.7 L222.7 614.8 L220.1 618.8 L217.6 622.8 L215 626.8 L212.4 630.9 L209.6 635.2 L206.8 639.6 L204 643.9 L201.4 647.9 L199.1 651.5 L197.1 654.6 L195.6 656.9" stroke="#111" stroke-width="1.6"/></g>
<g stroke="#141414"><path d="M259.3 557.5 L264.7 565.3 L262.3 568.9 L258.7 570.1 L256.1 568.5 L255.1 565.3 L252.8 557.8 L255.7 555.8" fill="#f8f8f8" stroke="none"/></g>
<g stroke="#141414"><path d="M259.7 557.2 Q257.5 555.1 255.4 555.9 Q253.7 556.5 252.5 558.1" stroke-width="1.6"/></g>
<g stroke="#141414"><path d="M265 565 C264.7 565.5 264 567.2 263.2 568 C262.3 568.8 261 569.5 259.9 569.7 C258.9 569.9 257.8 569.7 257.1 569.2 C256.3 568.8 255.7 567.9 255.5 567.1 C255.3 566.2 255.8 564.7 255.9 564.2" stroke-width="1.6"/></g>
<g stroke="#141414"><path d="M273.8 695.3 L275.9 692.2 L278.7 688 L282 682.9 L285.7 677.3 L289.5 671.6 L293.2 665.9 L296.7 660.6 L299.8 655.9 L302.5 651.8 L305.1 647.8 L307.7 644 L310 640.4 L312.3 637 L314.4 633.8 L316.3 630.9 L318 628.3 L319.5 626.1 L320.7 624.2 L321.8 622.6 L322.7 621.2 L323.5 619.9 L324.3 618.8 L325 617.7 L325.8 616.5 L326.6 615.3 L327.3 614.2 L327.9 613.1 L328.4 612.2 L328.9 611.4 L329.4 610.7 L329.9 610 L330.5 609.4 L331.2 608.8 L331.8 608.2 L332.5 607.6 L333.2 607.2 L333.9 606.7 L334.7 606.4 L335.4 606.1 L336.2 605.8 L337 605.6 L337.8 605.5 L338.6 605.4 L339.5 605.3 L340.4 605.3 L341.3 605.4 L342.3 605.6 L343.3 605.8 L344.3 606.1 L345.3 606.5 L346.2 606.9 L347.3 607.4 L348.4 608 L349.7 608.7 L351.1 609.5 L352.7 610.5 L354.6 611.7 L356.6 613.1 L358.8 614.6 L361.1 616.2 L363.5 617.9 L365.9 619.6 L368.3 621.3 L370.6 623 L372.9 624.6 L375.4 626.3 L377.8 628 L380.3 629.7 L382.6 631.4 L384.8 633 L386.9 634.4 L388.6 635.6 L390 636.7 L391.1 637.6 L392.1 638.3 L392.9 639 L393.6 639.6 L394.4 640.2 L395.1 640.8 L396 641.5 L396.9 642.2 L397.7 642.9 L398.6 643.6 L399.6 644.4 L400.5 645.1 L401.6 645.8 L402.7 646.4 L403.9 646.8 L405 647.1 L406.2 647.2 L407.3 647.2 L408.4 647 L409.5 646.8 L410.5 646.4 L411.6 645.9 L412.6 645.3 L413.6 644.7 L414.5 644 L415.4 643.2 L416.3 642.3 L417.2 641.3 L418.3 640.2 L419.4 638.9 L420.7 637.3 L422.2 635.5 L423.8 633.5 L425.5 631.4 L427.4 629 L429.3 626.5 L431.4 623.8 L433.6 621 L436 618 L438.5 614.8 L441.3 611.2 L444.2 607.5 L447.3 603.6 L450.4 599.6 L453.5 595.6 L456.6 591.7 L459.5 587.8 L462.4 584 L465.4 580.2 L468.2 576.4 L471.1 572.5 L474 568.7 L476.8 565 L479.5 561.3 L482.2 557.7 L484.9 554.2 L487.4 550.8 L489.9 547.5 L492.3 544.2 L494.8 540.9 L497.2 537.7 L499.7 534.3 L502.3 530.9 L505 527.4 L507.9 523.6 L510.8 519.8 L513.7 515.9 L516.6 512.2 L519.3 508.7 L521.9 505.4 L524.1 502.6 L526.1 500.1 L527.9 498 L529.6 496.1 L531.1 494.4 L532.5 492.9 L533.8 491.4 L535.1 490 L536.4 488.6 L537.6 487.1 L538.8 485.8 L539.9 484.5 L540.9 483.3 L541.8 482.2 L542.7 481.2 L543.6 480.3 L544.4 479.4 L545 478.7 L545.7 478.1 L546.2 477.5 L546.8 477 L547.4 476.5 L548 476 L548.6 475.3 L549.2 474.7 L549.7 474 L550.2 473.4 L550.7 472.7 L551.2 472 L551.7 471.3 L552.2 470.5 L552.6 469.6 L553 468.7 L553.3 467.8 L553.5 467 L553.7 466.1 L553.9 465.2 L554 464.3 L554 463.3 L554 462.3 L554 461.2 L553.9 460 L553.7 458.8 L553.5 457.6 L553.2 456.3 L553 455.1 L552.7 453.8 L552.5 452.6 L552.3 451.4 L552.1 450.1 L551.9 448.8 L551.7 447.5 L551.5 446.1 L551.3 444.7 L551.1 443.3 L550.9 441.8 L550.7 440.4 L550.5 439 L550.3 437.6 L550 436.2 L549.8 434.8 L549.6 433.5 L549.4 432.1 L549.2 430.8 L549 429.5 L548.9 428.2 L548.7 426.8 L548.6 425.4 L548.4 424 L548.3 422.6 L548.2 421.4 L548.1 420.4 L548 419.6 L540.6 420.4 L540.6 421.1 L540.7 422.1 L540.8 423.3 L541 424.7 L541.1 426.1 L541.2 427.6 L541.4 429.1 L541.6 430.5 L541.8 431.9 L542 433.2 L542.2 434.6 L542.4 436 L542.6 437.4 L542.9 438.8 L543.1 440.2 L543.3 441.6 L543.5 442.9 L543.7 444.3 L543.9 445.7 L544.1 447.1 L544.3 448.5 L544.5 449.9 L544.7 451.3 L544.9 452.6 L545.1 454 L545.4 455.3 L545.7 456.6 L545.9 457.8 L546.2 459 L546.4 460 L546.5 460.9 L546.6 461.8 L546.7 462.5 L546.7 463.2 L546.7 463.8 L546.6 464.3 L546.6 464.8 L546.5 465.3 L546.4 465.8 L546.2 466.3 L546 466.8 L545.9 467.2 L545.6 467.7 L545.3 468.2 L545 468.7 L544.6 469.2 L544.2 469.8 L543.8 470.3 L543.5 470.8 L543.1 471.2 L542.7 471.6 L542.2 472.1 L541.6 472.7 L541 473.3 L540.2 474.1 L539.4 475 L538.6 476 L537.8 477 L536.9 478 L536 479.2 L535 480.4 L533.9 481.7 L532.8 483 L531.6 484.4 L530.4 485.9 L529.2 487.3 L527.9 488.8 L526.5 490.4 L525 492.1 L523.3 494.1 L521.5 496.3 L519.5 498.8 L517.2 501.7 L514.6 505 L511.9 508.6 L509 512.4 L506.1 516.2 L503.2 520.1 L500.4 523.9 L497.7 527.5 L495.1 530.9 L492.6 534.2 L490.2 537.5 L487.8 540.8 L485.3 544.1 L482.9 547.4 L480.4 550.8 L477.8 554.3 L475.1 557.9 L472.3 561.7 L469.5 565.4 L466.7 569.2 L463.9 573.1 L461 576.9 L458.1 580.8 L455.3 584.6 L452.3 588.4 L449.3 592.4 L446.2 596.4 L443.1 600.3 L440.1 604.2 L437.1 608 L434.4 611.5 L431.8 614.8 L429.5 617.8 L427.3 620.7 L425.3 623.4 L423.3 625.9 L421.5 628.2 L419.9 630.4 L418.3 632.3 L416.9 634.1 L415.6 635.6 L414.5 636.9 L413.5 638 L412.7 638.8 L412 639.5 L411.4 640.1 L410.7 640.6 L410 641.1 L409.3 641.5 L408.6 641.8 L408 642 L407.5 642.1 L407 642.2 L406.4 642.2 L405.9 642.1 L405.3 642 L404.8 641.8 L404.1 641.5 L403.4 641 L402.6 640.4 L401.8 639.7 L400.9 639 L400 638.2 L399 637.5 L398.2 636.9 L397.4 636.3 L396.7 635.8 L396 635.2 L395.1 634.5 L394.1 633.7 L392.9 632.8 L391.4 631.8 L389.7 630.5 L387.6 629 L385.4 627.5 L383 625.8 L380.6 624.1 L378.1 622.4 L375.7 620.7 L373.4 619 L371.1 617.4 L368.7 615.7 L366.3 614 L363.9 612.3 L361.5 610.7 L359.3 609.1 L357.2 607.7 L355.3 606.5 L353.6 605.4 L352.1 604.5 L350.7 603.8 L349.4 603.1 L348.2 602.5 L347 602 L345.8 601.6 L344.5 601.2 L343.2 600.9 L341.9 600.7 L340.7 600.6 L339.5 600.5 L338.3 600.6 L337.1 600.7 L336 600.9 L334.8 601.2 L333.7 601.6 L332.7 602 L331.6 602.5 L330.6 603.1 L329.7 603.8 L328.8 604.5 L327.9 605.2 L327.1 606 L326.3 606.9 L325.6 607.8 L324.9 608.8 L324.3 609.7 L323.7 610.7 L323.1 611.7 L322.5 612.8 L321.8 613.9 L321 615 L320.3 616.2 L319.5 617.3 L318.7 618.5 L317.8 619.9 L316.7 621.5 L315.5 623.4 L314 625.7 L312.3 628.3 L310.4 631.2 L308.3 634.4 L306 637.8 L303.6 641.4 L301.1 645.2 L298.5 649.2 L295.8 653.3 L292.7 657.9 L289.2 663.2 L285.5 668.9 L281.7 674.7 L278 680.3 L274.7 685.3 L271.9 689.6 L269.8 692.7Z" fill="#f8f8f8" stroke="none"/></g>
<g stroke="#141414"><path d="M273.8 695.3 L275.9 692.2 L278.7 688 L282 682.9 L285.7 677.3 L289.5 671.6 L293.2 665.9 L296.7 660.6 L299.8 655.9 L302.5 651.8 L305.1 647.8 L307.7 644 L310 640.4 L312.3 637 L314.4 633.8 L316.3 630.9 L318 628.3 L319.5 626.1 L320.7 624.2 L321.8 622.6 L322.7 621.2 L323.5 619.9 L324.3 618.8 L325 617.7 L325.8 616.5 L326.6 615.3 L327.3 614.2 L327.9 613.1 L328.4 612.2 L328.9 611.4 L329.4 610.7 L329.9 610 L330.5 609.4 L331.2 608.8 L331.8 608.2 L332.5 607.6 L333.2 607.2 L333.9 606.7 L334.7 606.4 L335.4 606.1 L336.2 605.8 L337 605.6 L337.8 605.5 L338.6 605.4 L339.5 605.3 L340.4 605.3 L341.3 605.4 L342.3 605.6 L343.3 605.8 L344.3 606.1 L345.3 606.5 L346.2 606.9 L347.3 607.4 L348.4 608 L349.7 608.7 L351.1 609.5 L352.7 610.5 L354.6 611.7 L356.6 613.1 L358.8 614.6 L361.1 616.2 L363.5 617.9 L365.9 619.6 L368.3 621.3 L370.6 623 L372.9 624.6 L375.4 626.3 L377.8 628 L380.3 629.7 L382.6 631.4 L384.8 633 L386.9 634.4 L388.6 635.6 L390 636.7 L391.1 637.6 L392.1 638.3 L392.9 639 L393.6 639.6 L394.4 640.2 L395.1 640.8 L396 641.5 L396.9 642.2 L397.7 642.9 L398.6 643.6 L399.6 644.4 L400.5 645.1 L401.6 645.8 L402.7 646.4 L403.9 646.8 L405 647.1 L406.2 647.2 L407.3 647.2 L408.4 647 L409.5 646.8 L410.5 646.4 L411.6 645.9 L412.6 645.3 L413.6 644.7 L414.5 644 L415.4 643.2 L416.3 642.3 L417.2 641.3 L418.3 640.2 L419.4 638.9 L420.7 637.3 L422.2 635.5 L423.8 633.5 L425.5 631.4 L427.4 629 L429.3 626.5 L431.4 623.8 L433.6 621 L436 618 L438.5 614.8 L441.3 611.2 L444.2 607.5 L447.3 603.6 L450.4 599.6 L453.5 595.6 L456.6 591.7 L459.5 587.8 L462.4 584 L465.4 580.2 L468.2 576.4 L471.1 572.5 L474 568.7 L476.8 565 L479.5 561.3 L482.2 557.7 L484.9 554.2 L487.4 550.8 L489.9 547.5 L492.3 544.2 L494.8 540.9 L497.2 537.7 L499.7 534.3 L502.3 530.9 L505 527.4 L507.9 523.6 L510.8 519.8 L513.7 515.9 L516.6 512.2 L519.3 508.7 L521.9 505.4 L524.1 502.6 L526.1 500.1 L527.9 498 L529.6 496.1 L531.1 494.4 L532.5 492.9 L533.8 491.4 L535.1 490 L536.4 488.6 L537.6 487.1 L538.8 485.8 L539.9 484.5 L540.9 483.3 L541.8 482.2 L542.7 481.2 L543.6 480.3 L544.4 479.4 L545 478.7 L545.7 478.1 L546.2 477.5 L546.8 477 L547.4 476.5 L548 476 L548.6 475.3 L549.2 474.7 L549.7 474 L550.2 473.4 L550.7 472.7 L551.2 472 L551.7 471.3 L552.2 470.5 L552.6 469.6 L553 468.7 L553.3 467.8 L553.5 467 L553.7 466.1 L553.9 465.2 L554 464.3 L554 463.3 L554 462.3 L554 461.2 L553.9 460 L553.7 458.8 L553.5 457.6 L553.2 456.3 L553 455.1 L552.7 453.8 L552.5 452.6 L552.3 451.4 L552.1 450.1 L551.9 448.8 L551.7 447.5 L551.5 446.1 L551.3 444.7 L551.1 443.3 L550.9 441.8 L550.7 440.4 L550.5 439 L550.3 437.6 L550 436.2 L549.8 434.8 L549.6 433.5 L549.4 432.1 L549.2 430.8 L549 429.5 L548.9 428.2 L548.7 426.8 L548.6 425.4 L548.4 424 L548.3 422.6 L548.2 421.4 L548.1 420.4 L548 419.6" stroke="#111" stroke-width="1.6"/></g>
<g stroke="#141414"><path d="M269.8 692.7 L271.9 689.6 L274.7 685.3 L278 680.3 L281.7 674.7 L285.5 668.9 L289.2 663.2 L292.7 657.9 L295.8 653.3 L298.5 649.2 L301.1 645.2 L303.6 641.4 L306 637.8 L308.3 634.4 L310.4 631.2 L312.3 628.3 L314 625.7 L315.5 623.4 L316.7 621.5 L317.8 619.9 L318.7 618.5 L319.5 617.3 L320.3 616.2 L321 615 L321.8 613.9 L322.5 612.8 L323.1 611.7 L323.7 610.7 L324.3 609.7 L324.9 608.8 L325.6 607.8 L326.3 606.9 L327.1 606 L327.9 605.2 L328.8 604.5 L329.7 603.8 L330.6 603.1 L331.6 602.5 L332.7 602 L333.7 601.6 L334.8 601.2 L336 600.9 L337.1 600.7 L338.3 600.6 L339.5 600.5 L340.7 600.6 L341.9 600.7 L343.2 600.9 L344.5 601.2 L345.8 601.6 L347 602 L348.2 602.5 L349.4 603.1 L350.7 603.8 L352.1 604.5 L353.6 605.4 L355.3 606.5 L357.2 607.7 L359.3 609.1 L361.5 610.7 L363.9 612.3 L366.3 614 L368.7 615.7 L371.1 617.4 L373.4 619 L375.7 620.7 L378.1 622.4 L380.6 624.1 L383 625.8 L385.4 627.5 L387.6 629 L389.7 630.5 L391.4 631.8 L392.9 632.8 L394.1 633.7 L395.1 634.5 L396 635.2 L396.7 635.8 L397.4 636.3 L398.2 636.9 L399 637.5 L400 638.2 L400.9 639 L401.8 639.7 L402.6 640.4 L403.4 641 L404.1 641.5 L404.8 641.8 L405.3 642 L405.9 642.1 L406.4 642.2 L407 642.2 L407.5 642.1 L408 642 L408.6 641.8 L409.3 641.5 L410 641.1 L410.7 640.6 L411.4 640.1 L412 639.5 L412.7 638.8 L413.5 638 L414.5 636.9 L415.6 635.6 L416.9 634.1 L418.3 632.3 L419.9 630.4 L421.5 628.2 L423.3 625.9 L425.3 623.4 L427.3 620.7 L429.5 617.8 L431.8 614.8 L434.4 611.5 L437.1 608 L440.1 604.2 L443.1 600.3 L446.2 596.4 L449.3 592.4 L452.3 588.4 L455.3 584.6 L458.1 580.8 L461 576.9 L463.9 573.1 L466.7 569.2 L469.5 565.4 L472.3 561.7 L475.1 557.9 L477.8 554.3 L480.4 550.8 L482.9 547.4 L485.3 544.1 L487.8 540.8 L490.2 537.5 L492.6 534.2 L495.1 530.9 L497.7 527.5 L500.4 523.9 L503.2 520.1 L506.1 516.2 L509 512.4 L511.9 508.6 L514.6 505 L517.2 501.7 L519.5 498.8 L521.5 496.3 L523.3 494.1 L525 492.1 L526.5 490.4 L527.9 488.8 L529.2 487.3 L530.4 485.9 L531.6 484.4 L532.8 483 L533.9 481.7 L535 480.4 L536 479.2 L536.9 478 L537.8 477 L538.6 476 L539.4 475 L540.2 474.1 L541 473.3 L541.6 472.7 L542.2 472.1 L542.7 471.6 L543.1 471.2 L543.5 470.8 L543.8 470.3 L544.2 469.8 L544.6 469.2 L545 468.7 L545.3 468.2 L545.6 467.7 L545.9 467.2 L546 466.8 L546.2 466.3 L546.4 465.8 L546.5 465.3 L546.6 464.8 L546.6 464.3 L546.7 463.8 L546.7 463.2 L546.7 462.5 L546.6 461.8 L546.5 460.9 L546.4 460 L546.2 459 L545.9 457.8 L545.7 456.6 L545.4 455.3 L545.1 454 L544.9 452.6 L544.7 451.3 L544.5 449.9 L544.3 448.5 L544.1 447.1 L543.9 445.7 L543.7 444.3 L543.5 442.9 L543.3 441.6 L543.1 440.2 L542.9 438.8 L542.6 437.4 L542.4 436 L542.2 434.6 L542 433.2 L541.8 431.9 L541.6 430.5 L541.4 429.1 L541.2 427.6 L541.1 426.1 L541 424.7 L540.8 423.3 L540.7 422.1 L540.6 421.1 L540.6 420.4" stroke="#111" stroke-width="1.6"/></g>
<g stroke="#141414"><path d="M391.2 331.8 L392.2 340.1 L401 339.1 L400 330.8Z" stroke-width="1.5" fill="#f8f8f8"/></g>
<g stroke="#141414"><path d="M391.2 332 L391.5 334 L400.3 332.6 L400 330.6Z" stroke-width="1" fill="#444"/></g>
<g stroke="#141414"><path d="M393.5 334 L394.3 339.3 M398 333.6 L398.8 339" stroke-width="0.9"/></g>
<g stroke="#141414"><path d="M539.3 414.9 L540.3 424.9 L548.9 424.1 L547.9 414.1Z" stroke-width="1.5" fill="#f8f8f8"/></g>
<g stroke="#141414"><path d="M539.3 415.1 L539.6 417.1 L548.2 415.9 L547.9 413.9Z" stroke-width="1" fill="#444"/></g>
<g stroke="#141414"><path d="M541.6 417 L542.4 424 M546 416.8 L546.8 423.8" stroke-width="0.9"/></g>
<g stroke="#141414"><text x="422.6" y="216.6" font-size="12.4" text-anchor="middle">2</text></g>
<g stroke="#141414"><text x="423" y="318.5" font-size="12.4" text-anchor="middle">11</text></g>
<g stroke="#141414"><text x="425" y="337.2" font-size="12.4" text-anchor="middle">5</text></g>
<g stroke="#141414"><text x="438" y="349.7" font-size="12.4" text-anchor="middle">8</text></g>
<g stroke="#141414"><text x="456.3" y="357.7" font-size="12.4" text-anchor="middle">10</text></g>
<g stroke="#141414"><text x="584" y="280.1" font-size="12.4" text-anchor="middle">2</text></g>
<g stroke="#141414"><text x="564.7" y="394.3" font-size="12.4" text-anchor="middle">11</text></g>
<g stroke="#141414"><text x="577.5" y="411.3" font-size="12.4" text-anchor="middle">7</text></g>
<g stroke="#141414"><text x="342.2" y="373.3" font-size="12.4" text-anchor="middle">6</text></g>
<g stroke="#141414"><text x="369.7" y="385.9" font-size="12.4" text-anchor="middle">7</text></g>
<g stroke="#141414"><text x="299.4" y="478.5" font-size="12.4" text-anchor="middle">4</text></g>
<g stroke="#141414"><text x="248.8" y="496" font-size="12.4" text-anchor="middle">6</text></g>
<g stroke="#141414"><text x="292.1" y="507.3" font-size="12.4" text-anchor="middle">7</text></g>
<g stroke="#141414"><text x="303.1" y="534" font-size="12.4" text-anchor="middle">5</text></g>
<g stroke="#141414"><text x="317.8" y="542.5" font-size="12.4" text-anchor="middle">8</text></g>
<g stroke="#141414"><text x="340.5" y="551" font-size="12.4" text-anchor="middle">10</text></g>
<g stroke="#141414"><text x="178.2" y="580.8" font-size="12.4" text-anchor="middle">9</text></g>
<g stroke="#141414"><text x="196" y="593.3" font-size="12.4" text-anchor="middle">8</text></g>
<g stroke="#141414"><text x="211.4" y="605.5" font-size="12.4" text-anchor="middle">5</text></g>
<g stroke="#141414"><text x="162.2" y="654.7" font-size="12.4" text-anchor="middle">11</text></g>
<g stroke="#141414"><text x="146.7" y="669.7" font-size="12.4" text-anchor="middle">12</text></g>
<g stroke="#141414"><text x="359" y="568.3" font-size="12.4" text-anchor="middle">10</text></g>
<g stroke="#141414"><text x="379" y="580.8" font-size="12.4" text-anchor="middle">8</text></g>
<g stroke="#141414"><text x="394" y="587.1" font-size="12.4" text-anchor="middle">5</text></g>
<g stroke="#141414"><text x="249.3" y="625.9" font-size="12.4" text-anchor="middle">9</text></g>
<g stroke="#141414"><text x="266.3" y="638.4" font-size="12.4" text-anchor="middle">8</text></g>
<g stroke="#141414"><text x="282.6" y="649.7" font-size="12.4" text-anchor="middle">5</text></g>
<g stroke="#141414"><text x="243.8" y="697.2" font-size="12.4" text-anchor="middle">11</text></g>
<g stroke="#141414"><text x="227.5" y="714.2" font-size="12.4" text-anchor="middle">12</text></g>
<g stroke="#141414"><text x="482.6" y="435.8" font-size="12.4" text-anchor="middle">10</text></g>
<g stroke="#141414"><text x="500.9" y="444.5" font-size="12.4" text-anchor="middle">8</text></g>
<g stroke="#141414"><text x="517.6" y="457.6" font-size="12.4" text-anchor="middle">5</text></g>
<g stroke="#141414"><text x="599" y="417.5" font-size="12.4" text-anchor="middle">10</text></g>
<g stroke="#141414"><text x="412.5" y="574.7" font-size="12.4" text-anchor="middle">7</text></g>
<g stroke="#141414"><text x="473.8" y="617.3" font-size="12.4" text-anchor="middle">3</text></g>
<g stroke="#141414"><text x="430" y="673.5" font-size="12.4" text-anchor="middle">6</text></g>
</svg>
</body></html>
